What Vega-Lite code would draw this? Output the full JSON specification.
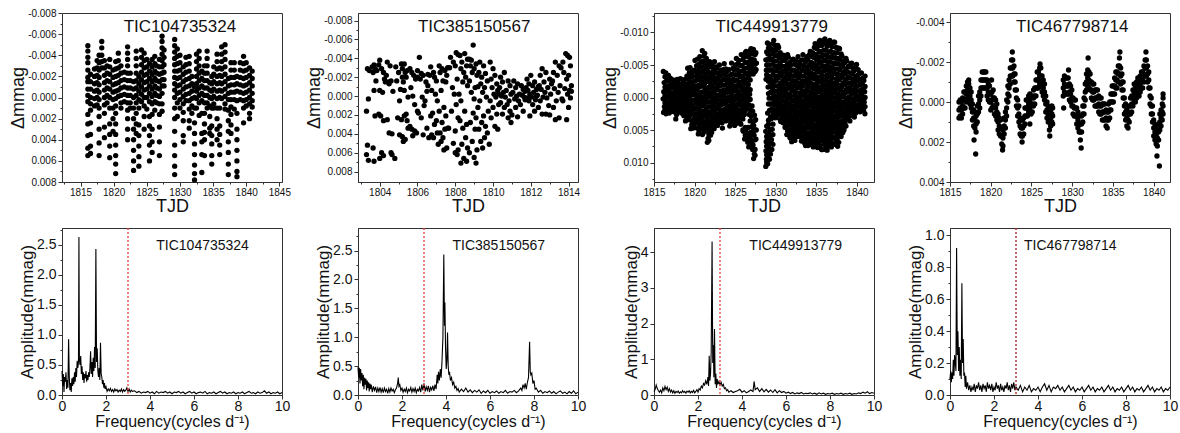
{
"$schema":"https://vega.github.io/schema/vega-lite/v6.json",
"background":"white",
"padding":{"left":9,"top":7,"right":2,"bottom":0},
"config":{
"font":"Liberation Sans",
"view":{"stroke":"#333","strokeWidth":1},
"axis":{"grid":false,"domainColor":"#333","tickColor":"#333","labelColor":"#111","titleColor":"#111","labelFont":"Liberation Sans","titleFont":"Liberation Sans","titleFontWeight":"normal","labelFlush":false,"labelOverlap":false,"tickWidth":1,"domainWidth":1},
"text":{"font":"Liberation Sans","color":"#111"},
"locale":{"number":{"decimal":".","thousands":",","grouping":[3],"currency":["$",""],"minus":"-"}}
},
"datasets":{
"lc1":[
{"t":1816.1,"m":-0.0049},{"t":1816.1,"m":-0.0044},{"t":1816.1,"m":-0.0038},{"t":1816.1,"m":-0.0033},{"t":1816.1,"m":-0.0026},{"t":1816.1,"m":-0.0019},{"t":1816.1,"m":-0.0015},{"t":1816.1,"m":-0.0008},{"t":1816.1,"m":-0.0002},{"t":1816.1,"m":0.0004},{"t":1816.1,"m":0.0016},{"t":1816.1,"m":0.0025},{"t":1816.1,"m":0.0036},{"t":1816.1,"m":0.0048},{"t":1816.1,"m":0.0055},
{"t":1816.5,"m":-0.0022},{"t":1816.5,"m":-0.0015},{"t":1816.5,"m":-0.0008},{"t":1816.5,"m":0},{"t":1816.5,"m":0.0006},{"t":1816.5,"m":0.0012},{"t":1816.5,"m":0.0024},{"t":1816.5,"m":0.0035},{"t":1816.5,"m":0.0046},{"t":1816.5,"m":0.0053},
{"t":1817.1,"m":-0.0027},{"t":1817.1,"m":-0.002},{"t":1817.1,"m":-0.0013},{"t":1817.1,"m":-0.0006},{"t":1817.1,"m":0.0001},{"t":1817.1,"m":0.0008},
{"t":1817.5,"m":-0.0035},{"t":1817.5,"m":-0.0028},{"t":1817.5,"m":-0.0021},{"t":1817.5,"m":-0.0014},{"t":1817.5,"m":-0.0007},{"t":1817.5,"m":0},{"t":1817.5,"m":0.0007},
{"t":1817.8,"m":-0.004},{"t":1817.8,"m":-0.0033},{"t":1817.8,"m":-0.0026},{"t":1817.8,"m":-0.0019},{"t":1817.8,"m":-0.0012},{"t":1817.8,"m":-0.0005},{"t":1817.8,"m":0.0002},{"t":1817.8,"m":0.001},{"t":1817.8,"m":0.0018},{"t":1817.8,"m":0.003},{"t":1817.8,"m":0.0043},{"t":1817.8,"m":0.0055},
{"t":1818.2,"m":-0.0053},{"t":1818.2,"m":-0.0047},{"t":1818.2,"m":-0.004},{"t":1818.2,"m":-0.0034},{"t":1818.2,"m":-0.0028},
{"t":1818.6,"m":-0.0035},{"t":1818.6,"m":-0.0028},{"t":1818.6,"m":-0.0021},{"t":1818.6,"m":-0.0014},{"t":1818.6,"m":-0.0007},{"t":1818.6,"m":0},{"t":1818.6,"m":0.0007},{"t":1818.6,"m":0.0015},{"t":1818.6,"m":0.0028},{"t":1818.6,"m":0.0038},
{"t":1819.0,"m":-0.003},{"t":1819.0,"m":-0.0023},{"t":1819.0,"m":-0.0016},{"t":1819.0,"m":-0.0009},{"t":1819.0,"m":-0.0002},{"t":1819.0,"m":0.0005},
{"t":1819.4,"m":-0.0036},{"t":1819.4,"m":-0.0029},{"t":1819.4,"m":-0.0022},{"t":1819.4,"m":-0.0015},{"t":1819.4,"m":-0.0008},{"t":1819.4,"m":0},{"t":1819.4,"m":0.001},{"t":1819.4,"m":0.0025},{"t":1819.4,"m":0.0035},{"t":1819.4,"m":0.0046},{"t":1819.4,"m":0.0057},
{"t":1819.9,"m":-0.0026},{"t":1819.9,"m":-0.0019},{"t":1819.9,"m":-0.0012},{"t":1819.9,"m":-0.0005},{"t":1819.9,"m":0.0002},{"t":1819.9,"m":0.001},{"t":1819.9,"m":0.002},{"t":1819.9,"m":0.0032},
{"t":1820.3,"m":-0.0034},{"t":1820.3,"m":-0.0027},{"t":1820.3,"m":-0.002},{"t":1820.3,"m":-0.0013},{"t":1820.3,"m":-0.0006},{"t":1820.3,"m":0.0001},{"t":1820.3,"m":0.0008},{"t":1820.3,"m":0.0015},{"t":1820.3,"m":0.0025},{"t":1820.3,"m":0.0035},{"t":1820.3,"m":0.0045},{"t":1820.3,"m":0.0055},{"t":1820.3,"m":0.0063},{"t":1820.3,"m":0.0072},
{"t":1820.7,"m":-0.0042},{"t":1820.7,"m":-0.0035},{"t":1820.7,"m":-0.0028},{"t":1820.7,"m":-0.0021},{"t":1820.7,"m":-0.0014},{"t":1820.7,"m":-0.0007},{"t":1820.7,"m":-0.0001},
{"t":1821.1,"m":-0.003},{"t":1821.1,"m":-0.0023},{"t":1821.1,"m":-0.0016},{"t":1821.1,"m":-0.0009},{"t":1821.1,"m":-0.0002},{"t":1821.1,"m":0.0005},{"t":1821.1,"m":0.001},
{"t":1821.6,"m":-0.0024},{"t":1821.6,"m":-0.0017},{"t":1821.6,"m":-0.001},{"t":1821.6,"m":-0.0003},{"t":1821.6,"m":0.0004},
{"t":1822.1,"m":-0.0048},{"t":1822.1,"m":-0.0042},{"t":1822.1,"m":-0.0036},{"t":1822.1,"m":-0.003},{"t":1822.1,"m":-0.0023},{"t":1822.1,"m":-0.0016},{"t":1822.1,"m":-0.0009},{"t":1822.1,"m":-0.0002},{"t":1822.1,"m":0.0005},{"t":1822.1,"m":0.0012},{"t":1822.1,"m":0.002},{"t":1822.1,"m":0.003},{"t":1822.1,"m":0.004},
{"t":1822.5,"m":-0.0023},{"t":1822.5,"m":-0.0016},{"t":1822.5,"m":-0.0009},{"t":1822.5,"m":-0.0002},{"t":1822.5,"m":0.0005},{"t":1822.5,"m":0.001},
{"t":1823.0,"m":-0.0015},{"t":1823.0,"m":-0.0008},{"t":1823.0,"m":0},{"t":1823.0,"m":0.001},{"t":1823.0,"m":0.002},{"t":1823.0,"m":0.003},{"t":1823.0,"m":0.004},{"t":1823.0,"m":0.005},{"t":1823.0,"m":0.006},{"t":1823.0,"m":0.0069},
{"t":1823.4,"m":-0.0044},{"t":1823.4,"m":-0.0037},{"t":1823.4,"m":-0.003},{"t":1823.4,"m":-0.0023},{"t":1823.4,"m":-0.0016},{"t":1823.4,"m":-0.0009},{"t":1823.4,"m":-0.0002},{"t":1823.4,"m":0.0005},{"t":1823.4,"m":0.0015},{"t":1823.4,"m":0.0025},{"t":1823.4,"m":0.0034},
{"t":1823.8,"m":-0.002},{"t":1823.8,"m":-0.0013},{"t":1823.8,"m":-0.0006},{"t":1823.8,"m":0.0002},{"t":1823.8,"m":0.001},{"t":1823.8,"m":0.0026},{"t":1823.8,"m":0.0036},{"t":1823.8,"m":0.0046},{"t":1823.8,"m":0.0056},{"t":1823.8,"m":0.0065},
{"t":1824.2,"m":-0.0045},{"t":1824.2,"m":-0.0038},{"t":1824.2,"m":-0.0031},{"t":1824.2,"m":-0.0024},{"t":1824.2,"m":-0.0017},{"t":1824.2,"m":-0.001},{"t":1824.2,"m":-0.0003},{"t":1824.2,"m":0.0004},
{"t":1824.6,"m":-0.0042},{"t":1824.6,"m":-0.0035},{"t":1824.6,"m":-0.0028},{"t":1824.6,"m":-0.0021},{"t":1824.6,"m":-0.0014},{"t":1824.6,"m":-0.0007},{"t":1824.6,"m":0},{"t":1824.6,"m":0.0008},{"t":1824.6,"m":0.0018},{"t":1824.6,"m":0.003},
{"t":1825.0,"m":-0.0036},{"t":1825.0,"m":-0.0029},{"t":1825.0,"m":-0.0022},{"t":1825.0,"m":-0.0015},{"t":1825.0,"m":-0.0008},{"t":1825.0,"m":0},{"t":1825.0,"m":0.0011},
{"t":1825.4,"m":-0.0032},{"t":1825.4,"m":-0.0025},{"t":1825.4,"m":-0.0018},{"t":1825.4,"m":-0.0011},{"t":1825.4,"m":-0.0004},{"t":1825.4,"m":0.0004},{"t":1825.4,"m":0.0018},{"t":1825.4,"m":0.0027},{"t":1825.4,"m":0.0036},{"t":1825.4,"m":0.0045},{"t":1825.4,"m":0.006},
{"t":1825.8,"m":-0.0036},{"t":1825.8,"m":-0.0029},{"t":1825.8,"m":-0.0022},{"t":1825.8,"m":-0.0015},{"t":1825.8,"m":-0.0008},{"t":1825.8,"m":-0.0001},{"t":1825.8,"m":0.0006},{"t":1825.8,"m":0.0016},{"t":1825.8,"m":0.003},{"t":1825.8,"m":0.0042},{"t":1825.8,"m":0.0052},
{"t":1826.2,"m":-0.0039},{"t":1826.2,"m":-0.0032},{"t":1826.2,"m":-0.0025},{"t":1826.2,"m":-0.0018},{"t":1826.2,"m":-0.0011},{"t":1826.2,"m":-0.0004},{"t":1826.2,"m":0.0004},{"t":1826.2,"m":0.0012},
{"t":1826.5,"m":-0.003},{"t":1826.5,"m":-0.0023},{"t":1826.5,"m":-0.0016},{"t":1826.5,"m":-0.0009},{"t":1826.5,"m":-0.0002},{"t":1826.5,"m":0.0005},
{"t":1826.9,"m":-0.0036},{"t":1826.9,"m":-0.0029},{"t":1826.9,"m":-0.0022},{"t":1826.9,"m":-0.0015},{"t":1826.9,"m":-0.0008},{"t":1826.9,"m":-0.0001},{"t":1826.9,"m":0.0006},{"t":1826.9,"m":0.0016},{"t":1826.9,"m":0.0028},{"t":1826.9,"m":0.0042},{"t":1826.9,"m":0.0055},
{"t":1827.3,"m":-0.0058},{"t":1827.3,"m":-0.0053},{"t":1827.3,"m":-0.0047},{"t":1827.3,"m":-0.0041},{"t":1827.3,"m":-0.0035},{"t":1827.3,"m":-0.0029},{"t":1827.3,"m":-0.0023},{"t":1827.3,"m":-0.0017},{"t":1827.3,"m":-0.0011},{"t":1827.3,"m":-0.0004},{"t":1827.3,"m":0.0006},{"t":1827.3,"m":0.0013},
{"t":1827.6,"m":-0.0045},{"t":1827.6,"m":-0.0038},{"t":1827.6,"m":-0.0031},{"t":1827.6,"m":-0.0024},{"t":1827.6,"m":-0.0017},{"t":1827.6,"m":-0.0011},
{"t":1829.2,"m":-0.0055},{"t":1829.2,"m":-0.0049},{"t":1829.2,"m":-0.0043},{"t":1829.2,"m":-0.0037},{"t":1829.2,"m":-0.0031},{"t":1829.2,"m":-0.0025},{"t":1829.2,"m":-0.0019},{"t":1829.2,"m":-0.0013},{"t":1829.2,"m":-0.0007},{"t":1829.2,"m":0},{"t":1829.2,"m":0.001},{"t":1829.2,"m":0.002},{"t":1829.2,"m":0.0032},{"t":1829.2,"m":0.0045},{"t":1829.2,"m":0.0055},{"t":1829.2,"m":0.0065},{"t":1829.2,"m":0.0073},
{"t":1829.6,"m":-0.0046},{"t":1829.6,"m":-0.0039},{"t":1829.6,"m":-0.0032},{"t":1829.6,"m":-0.0025},{"t":1829.6,"m":-0.0018},{"t":1829.6,"m":-0.0011},{"t":1829.6,"m":-0.0004},{"t":1829.6,"m":0.0005},{"t":1829.6,"m":0.0018},
{"t":1830.0,"m":-0.004},{"t":1830.0,"m":-0.0033},{"t":1830.0,"m":-0.0026},{"t":1830.0,"m":-0.0019},{"t":1830.0,"m":-0.0012},{"t":1830.0,"m":-0.0005},{"t":1830.0,"m":0.0002},{"t":1830.0,"m":0.001},
{"t":1830.5,"m":-0.0029},{"t":1830.5,"m":-0.0022},{"t":1830.5,"m":-0.0015},{"t":1830.5,"m":-0.0008},{"t":1830.5,"m":-0.0001},{"t":1830.5,"m":0.0006},{"t":1830.5,"m":0.0014},{"t":1830.5,"m":0.0022},{"t":1830.5,"m":0.0036},{"t":1830.5,"m":0.0042},
{"t":1830.9,"m":-0.0038},{"t":1830.9,"m":-0.0031},{"t":1830.9,"m":-0.0024},{"t":1830.9,"m":-0.0017},{"t":1830.9,"m":-0.001},{"t":1830.9,"m":-0.0003},{"t":1830.9,"m":0.0003},
{"t":1831.4,"m":-0.0039},{"t":1831.4,"m":-0.0032},{"t":1831.4,"m":-0.0025},{"t":1831.4,"m":-0.0018},{"t":1831.4,"m":-0.0011},{"t":1831.4,"m":-0.0004},{"t":1831.4,"m":0.0003},{"t":1831.4,"m":0.0011},{"t":1831.4,"m":0.0022},{"t":1831.4,"m":0.0029},
{"t":1831.8,"m":-0.002},{"t":1831.8,"m":-0.0013},{"t":1831.8,"m":-0.0006},{"t":1831.8,"m":0.0001},{"t":1831.8,"m":0.0008},{"t":1831.8,"m":0.0015},
{"t":1832.2,"m":-0.001},{"t":1832.2,"m":0},{"t":1832.2,"m":0.001},{"t":1832.2,"m":0.0024},{"t":1832.2,"m":0.0034},{"t":1832.2,"m":0.0044},{"t":1832.2,"m":0.0054},{"t":1832.2,"m":0.0064},{"t":1832.2,"m":0.0072},{"t":1832.2,"m":0.0078},
{"t":1832.5,"m":-0.0041},{"t":1832.5,"m":-0.0034},{"t":1832.5,"m":-0.0027},{"t":1832.5,"m":-0.002},{"t":1832.5,"m":-0.0013},{"t":1832.5,"m":-0.0006},{"t":1832.5,"m":0.0001},{"t":1832.5,"m":0.001},
{"t":1832.9,"m":-0.0044},{"t":1832.9,"m":-0.0037},{"t":1832.9,"m":-0.003},{"t":1832.9,"m":-0.0023},{"t":1832.9,"m":-0.0016},{"t":1832.9,"m":-0.0009},{"t":1832.9,"m":-0.0002},{"t":1832.9,"m":0.0005},{"t":1832.9,"m":0.0017},
{"t":1833.3,"m":-0.0025},{"t":1833.3,"m":-0.0018},{"t":1833.3,"m":-0.0011},{"t":1833.3,"m":-0.0004},{"t":1833.3,"m":0.0003},{"t":1833.3,"m":0.0015},{"t":1833.3,"m":0.0034},{"t":1833.3,"m":0.0042},{"t":1833.3,"m":0.0054},{"t":1833.3,"m":0.0071},
{"t":1833.7,"m":-0.003},{"t":1833.7,"m":-0.0023},{"t":1833.7,"m":-0.0016},{"t":1833.7,"m":-0.0009},{"t":1833.7,"m":-0.0002},{"t":1833.7,"m":0.0005},{"t":1833.7,"m":0.0015},{"t":1833.7,"m":0.0025},{"t":1833.7,"m":0.0033},{"t":1833.7,"m":0.004},{"t":1833.7,"m":0.0055},
{"t":1834.1,"m":-0.0044},{"t":1834.1,"m":-0.0037},{"t":1834.1,"m":-0.003},{"t":1834.1,"m":-0.0023},{"t":1834.1,"m":-0.0016},{"t":1834.1,"m":-0.0009},{"t":1834.1,"m":-0.0002},{"t":1834.1,"m":0.0005},{"t":1834.1,"m":0.001},
{"t":1834.5,"m":-0.0014},{"t":1834.5,"m":-0.0007},{"t":1834.5,"m":0},{"t":1834.5,"m":0.0008},{"t":1834.5,"m":0.0018},{"t":1834.5,"m":0.0029},{"t":1834.5,"m":0.0034},
{"t":1834.8,"m":-0.002},{"t":1834.8,"m":-0.0013},{"t":1834.8,"m":-0.0006},{"t":1834.8,"m":0.0001},{"t":1834.8,"m":0.001},{"t":1834.8,"m":0.0027},{"t":1834.8,"m":0.0036},{"t":1834.8,"m":0.0044},{"t":1834.8,"m":0.0055},{"t":1834.8,"m":0.0063},
{"t":1835.1,"m":-0.0029},{"t":1835.1,"m":-0.0022},{"t":1835.1,"m":-0.0015},{"t":1835.1,"m":-0.0008},{"t":1835.1,"m":-0.0001},{"t":1835.1,"m":0.0006},{"t":1835.1,"m":0.001},
{"t":1835.6,"m":-0.0041},{"t":1835.6,"m":-0.0034},{"t":1835.6,"m":-0.0027},{"t":1835.6,"m":-0.002},{"t":1835.6,"m":-0.0013},{"t":1835.6,"m":-0.0006},{"t":1835.6,"m":0.0001},{"t":1835.6,"m":0.001},{"t":1835.6,"m":0.002},{"t":1835.6,"m":0.003},{"t":1835.6,"m":0.004},
{"t":1836.0,"m":-0.0028},{"t":1836.0,"m":-0.0021},{"t":1836.0,"m":-0.0014},{"t":1836.0,"m":-0.0007},{"t":1836.0,"m":0},{"t":1836.0,"m":0.001},{"t":1836.0,"m":0.0027},{"t":1836.0,"m":0.0035},{"t":1836.0,"m":0.0045},{"t":1836.0,"m":0.0054},
{"t":1836.3,"m":-0.0048},{"t":1836.3,"m":-0.0041},{"t":1836.3,"m":-0.0034},{"t":1836.3,"m":-0.0027},{"t":1836.3,"m":-0.002},{"t":1836.3,"m":-0.0013},{"t":1836.3,"m":-0.0006},{"t":1836.3,"m":0.0001},
{"t":1836.8,"m":-0.005},{"t":1836.8,"m":-0.0043},{"t":1836.8,"m":-0.0036},{"t":1836.8,"m":-0.0029},{"t":1836.8,"m":-0.0022},{"t":1836.8,"m":-0.0015},{"t":1836.8,"m":-0.0008},{"t":1836.8,"m":-0.0001},{"t":1836.8,"m":0.0006},{"t":1836.8,"m":0.0011},
{"t":1837.3,"m":-0.0018},{"t":1837.3,"m":-0.0011},{"t":1837.3,"m":-0.0004},{"t":1837.3,"m":0.0002},{"t":1837.3,"m":0.0012},{"t":1837.3,"m":0.0022},{"t":1837.3,"m":0.0032},{"t":1837.3,"m":0.0042},{"t":1837.3,"m":0.0052},{"t":1837.3,"m":0.0063},{"t":1837.3,"m":0.0073},
{"t":1837.7,"m":-0.0033},{"t":1837.7,"m":-0.0026},{"t":1837.7,"m":-0.0019},{"t":1837.7,"m":-0.0012},{"t":1837.7,"m":-0.0005},{"t":1837.7,"m":0.0002},{"t":1837.7,"m":0.0009},{"t":1837.7,"m":0.0016},{"t":1837.7,"m":0.0026},{"t":1837.7,"m":0.0034},
{"t":1838.2,"m":-0.0033},{"t":1838.2,"m":-0.0026},{"t":1838.2,"m":-0.0019},{"t":1838.2,"m":-0.0012},{"t":1838.2,"m":-0.0005},{"t":1838.2,"m":0.0002},{"t":1838.2,"m":0.0011},
{"t":1838.6,"m":-0.002},{"t":1838.6,"m":-0.0013},{"t":1838.6,"m":-0.0006},{"t":1838.6,"m":0.0003},{"t":1838.6,"m":0.0015},{"t":1838.6,"m":0.003},{"t":1838.6,"m":0.004},{"t":1838.6,"m":0.005},{"t":1838.6,"m":0.006},{"t":1838.6,"m":0.007},{"t":1838.6,"m":0.0075},
{"t":1839.1,"m":-0.0033},{"t":1839.1,"m":-0.0026},{"t":1839.1,"m":-0.0019},{"t":1839.1,"m":-0.0012},{"t":1839.1,"m":-0.0005},{"t":1839.1,"m":0.0002},
{"t":1839.6,"m":-0.0039},{"t":1839.6,"m":-0.0032},{"t":1839.6,"m":-0.0025},{"t":1839.6,"m":-0.0018},{"t":1839.6,"m":-0.0011},{"t":1839.6,"m":-0.0004},{"t":1839.6,"m":0.0003},{"t":1839.6,"m":0.001},{"t":1839.6,"m":0.0024},
{"t":1840.0,"m":-0.0033},{"t":1840.0,"m":-0.0026},{"t":1840.0,"m":-0.0019},{"t":1840.0,"m":-0.0012},{"t":1840.0,"m":-0.0005},{"t":1840.0,"m":0.0002},{"t":1840.0,"m":0.0008},
{"t":1840.5,"m":-0.0028},{"t":1840.5,"m":-0.0021},{"t":1840.5,"m":-0.0014},{"t":1840.5,"m":-0.0007},{"t":1840.5,"m":0},{"t":1840.5,"m":0.0006},{"t":1840.5,"m":0.0015},{"t":1840.5,"m":0.002},
{"t":1840.9,"m":-0.0025},{"t":1840.9,"m":-0.0018},{"t":1840.9,"m":-0.0011},{"t":1840.9,"m":-0.0004},{"t":1840.9,"m":0.0003},{"t":1840.9,"m":0.0009}
],
"lc2":[
{"t":1803.35,"m":-0.0029},{"t":1803.45,"m":-0.0027},{"t":1803.4,"m":0.0003},{"t":1803.3,"m":0.0016},{"t":1803.35,"m":0.0052},{"t":1803.3,"m":0.0062},{"t":1803.4,"m":0.0068},
{"t":1803.7,"m":-0.0033},{"t":1803.6,"m":-0.0031},{"t":1803.75,"m":-0.0029},{"t":1803.65,"m":-0.0025},{"t":1803.8,"m":-0.0016},{"t":1803.7,"m":-0.0006},{"t":1803.75,"m":0.0021},{"t":1803.65,"m":0.0055},{"t":1803.7,"m":0.0069},{"t":1803.85,"m":-0.0027},
{"t":1804.0,"m":-0.0038},{"t":1803.95,"m":-0.0033},{"t":1804.1,"m":-0.0029},{"t":1804.2,"m":-0.0025},{"t":1804.25,"m":-0.0018},{"t":1804.0,"m":-0.0006},{"t":1804.15,"m":-0.0004},{"t":1803.95,"m":0.0019},{"t":1804.05,"m":0.0021},{"t":1804.2,"m":0.0026},{"t":1804.1,"m":0.006},{"t":1804.2,"m":0.0063},{"t":1804.0,"m":0.0066},{"t":1804.3,"m":-0.0015},
{"t":1804.4,"m":-0.0036},{"t":1804.55,"m":-0.0032},{"t":1804.35,"m":-0.0022},{"t":1804.6,"m":-0.0016},{"t":1804.45,"m":-0.0015},{"t":1804.5,"m":-0.0013},{"t":1804.4,"m":0.0025},{"t":1804.5,"m":0.0039},{"t":1804.6,"m":0.006},{"t":1804.65,"m":0.0062},{"t":1804.65,"m":0.004},{"t":1804.7,"m":-0.0005},
{"t":1804.85,"m":-0.0031},{"t":1805.0,"m":-0.0025},{"t":1804.9,"m":-0.0016},{"t":1805.1,"m":-0.0007},{"t":1805.05,"m":0.0005},{"t":1804.95,"m":0.0023},{"t":1805.15,"m":0.0025},{"t":1805.05,"m":0.0041},{"t":1805.2,"m":0.0043},{"t":1804.8,"m":0.0066},{"t":1805.15,"m":-0.0034},{"t":1805.2,"m":-0.002},
{"t":1805.3,"m":-0.0034},{"t":1805.2,"m":-0.0029},{"t":1805.45,"m":-0.0027},{"t":1805.35,"m":-0.0025},{"t":1805.4,"m":-0.002},{"t":1805.25,"m":-0.0015},{"t":1805.3,"m":-0.0006},{"t":1805.5,"m":0.0001},{"t":1805.4,"m":0.0019},{"t":1805.3,"m":0.0021},{"t":1805.45,"m":0.0026},{"t":1805.25,"m":0.0048},{"t":1805.35,"m":0.0046},{"t":1805.5,"m":0.0034},
{"t":1805.6,"m":-0.0029},{"t":1805.7,"m":-0.0025},{"t":1805.8,"m":-0.0022},{"t":1805.9,"m":-0.0018},{"t":1805.65,"m":-0.0009},{"t":1805.75,"m":0},{"t":1805.85,"m":0.0009},{"t":1806.0,"m":0.0016},{"t":1805.6,"m":0.0032},{"t":1805.7,"m":0.0035},{"t":1805.85,"m":0.0037},{"t":1805.95,"m":0.0039},{"t":1806.0,"m":-0.002},{"t":1805.75,"m":0.0042},
{"t":1806.1,"m":-0.0041},{"t":1806.0,"m":-0.0027},{"t":1806.2,"m":-0.0024},{"t":1806.3,"m":-0.0022},{"t":1806.15,"m":-0.0018},{"t":1806.45,"m":-0.0015},{"t":1806.55,"m":-0.0011},{"t":1806.25,"m":0.0001},{"t":1806.4,"m":0.0005},{"t":1806.35,"m":0.001},{"t":1806.05,"m":0.0018},{"t":1806.2,"m":0.0023},{"t":1806.5,"m":0.0034},{"t":1806.3,"m":0.0041},{"t":1806.6,"m":0.0044},{"t":1806.55,"m":-0.0023},{"t":1806.5,"m":-0.0005},
{"t":1806.7,"m":-0.0031},{"t":1806.85,"m":-0.0025},{"t":1806.65,"m":-0.0022},{"t":1806.9,"m":-0.002},{"t":1807.0,"m":-0.0016},{"t":1806.75,"m":-0.0006},{"t":1806.95,"m":-0.0002},{"t":1807.05,"m":0.0005},{"t":1806.8,"m":0.0018},{"t":1806.7,"m":0.0021},{"t":1807.0,"m":0.0026},{"t":1806.9,"m":0.003},{"t":1807.05,"m":0.0039},{"t":1806.75,"m":0.0041},{"t":1806.85,"m":0.0044},{"t":1807.1,"m":0.0051},
{"t":1807.15,"m":-0.0032},{"t":1807.3,"m":-0.0029},{"t":1807.45,"m":-0.0027},{"t":1807.2,"m":-0.0025},{"t":1807.55,"m":-0.0022},{"t":1807.35,"m":-0.0016},{"t":1807.5,"m":-0.0015},{"t":1807.25,"m":-0.0006},{"t":1807.4,"m":0.0012},{"t":1807.15,"m":0.0016},{"t":1807.5,"m":0.0021},{"t":1807.3,"m":0.0028},{"t":1807.6,"m":0.0034},{"t":1807.45,"m":0.0035},{"t":1807.2,"m":0.0039},{"t":1807.35,"m":0.0044},{"t":1807.25,"m":0.0048},{"t":1807.55,"m":0.0055},{"t":1807.4,"m":0.0057},{"t":1807.6,"m":-0.003},
{"t":1807.75,"m":-0.0041},{"t":1807.9,"m":-0.0036},{"t":1808.0,"m":-0.0032},{"t":1807.7,"m":-0.003},{"t":1808.1,"m":-0.0018},{"t":1807.85,"m":-0.0009},{"t":1807.95,"m":-0.0002},{"t":1808.05,"m":0.0009},{"t":1807.8,"m":0.0016},{"t":1808.15,"m":0.0023},{"t":1807.65,"m":0.0034},{"t":1808.0,"m":0.0037},{"t":1807.9,"m":0.005},{"t":1808.15,"m":0.0057},{"t":1808.0,"m":0.006},{"t":1808.1,"m":0.0062},{"t":1808.05,"m":-0.0046},{"t":1808.15,"m":-0.0044},
{"t":1808.5,"m":-0.0045},{"t":1808.25,"m":-0.0043},{"t":1808.65,"m":-0.0039},{"t":1808.35,"m":-0.0036},{"t":1808.6,"m":-0.0032},{"t":1808.3,"m":-0.0029},{"t":1808.45,"m":-0.0025},{"t":1808.55,"m":-0.002},{"t":1808.4,"m":-0.0015},{"t":1808.65,"m":-0.0011},{"t":1808.3,"m":0.0005},{"t":1808.5,"m":0.0016},{"t":1808.25,"m":0.0026},{"t":1808.6,"m":0.003},{"t":1808.4,"m":0.0034},{"t":1808.55,"m":0.0044},{"t":1808.35,"m":0.0051},{"t":1808.65,"m":0.0055},{"t":1808.45,"m":0.0066},{"t":1808.6,"m":0.0069},{"t":1808.2,"m":-0.0002},{"t":1808.3,"m":0.0071},
{"t":1808.95,"m":-0.0054},{"t":1808.75,"m":-0.0039},{"t":1808.85,"m":-0.0038},{"t":1809.1,"m":-0.0034},{"t":1808.8,"m":-0.0032},{"t":1809.0,"m":-0.0029},{"t":1808.9,"m":-0.0025},{"t":1809.15,"m":-0.0022},{"t":1808.75,"m":-0.0016},{"t":1809.05,"m":-0.0009},{"t":1808.85,"m":-0.0004},{"t":1809.0,"m":0.0003},{"t":1809.2,"m":0.0012},{"t":1808.95,"m":0.0018},{"t":1809.1,"m":0.0023},{"t":1808.8,"m":0.0028},{"t":1809.05,"m":0.0035},{"t":1808.9,"m":0.0048},{"t":1809.15,"m":0.0057},{"t":1808.75,"m":0.006},{"t":1809.0,"m":0.0065},{"t":1809.1,"m":0.0071},{"t":1809.2,"m":-0.001},
{"t":1809.3,"m":-0.0036},{"t":1809.5,"m":-0.0032},{"t":1809.25,"m":-0.0025},{"t":1809.6,"m":-0.0024},{"t":1809.4,"m":-0.002},{"t":1809.7,"m":-0.0016},{"t":1809.35,"m":-0.0013},{"t":1809.55,"m":-0.0009},{"t":1809.45,"m":-0.0004},{"t":1809.65,"m":0.0001},{"t":1809.3,"m":0.0005},{"t":1809.75,"m":0.0016},{"t":1809.5,"m":0.0021},{"t":1809.4,"m":0.0028},{"t":1809.6,"m":0.0032},{"t":1809.25,"m":0.0035},{"t":1809.7,"m":0.0039},{"t":1809.55,"m":0.0044},{"t":1809.35,"m":0.0048},{"t":1809.8,"m":0.0051},{"t":1809.45,"m":0.0055},
{"t":1809.85,"m":-0.0036},{"t":1810.0,"m":-0.0029},{"t":1810.1,"m":-0.0022},{"t":1809.9,"m":-0.0018},{"t":1810.2,"m":-0.0013},{"t":1809.95,"m":-0.0009},{"t":1810.25,"m":-0.0006},{"t":1810.05,"m":-0.0002},{"t":1810.15,"m":0.0001},{"t":1809.85,"m":0.0005},{"t":1810.3,"m":0.0009},{"t":1810.0,"m":0.0012},{"t":1810.2,"m":0.0019},{"t":1809.9,"m":0.0023},{"t":1810.1,"m":0.0032},{"t":1810.25,"m":0.0035},
{"t":1810.6,"m":-0.0025},{"t":1810.4,"m":-0.002},{"t":1810.8,"m":-0.0016},{"t":1810.5,"m":-0.0015},{"t":1810.9,"m":-0.0011},{"t":1810.35,"m":-0.0009},{"t":1810.7,"m":-0.0006},{"t":1810.55,"m":-0.0004},{"t":1810.95,"m":-0.0002},{"t":1810.45,"m":0},{"t":1810.65,"m":0.0001},{"t":1810.85,"m":0.0005},{"t":1810.4,"m":0.0007},{"t":1810.75,"m":0.0009},{"t":1810.6,"m":0.0012},{"t":1810.9,"m":0.0016},{"t":1810.5,"m":0.0019},{"t":1810.8,"m":0.0023},{"t":1811.0,"m":0.002},{"t":1810.95,"m":0.0028},{"t":1810.3,"m":-0.0002},
{"t":1811.1,"m":-0.0016},{"t":1811.3,"m":-0.0013},{"t":1811.5,"m":-0.0011},{"t":1811.2,"m":-0.0009},{"t":1811.6,"m":-0.0007},{"t":1811.05,"m":-0.0004},{"t":1811.4,"m":-0.0002},{"t":1811.25,"m":0},{"t":1811.55,"m":-0.0001},{"t":1811.65,"m":0.0001},{"t":1811.15,"m":0.0003},{"t":1811.35,"m":0.0005},{"t":1811.45,"m":0.0009},{"t":1811.2,"m":0.0012},{"t":1811.6,"m":0.0016},{"t":1811.3,"m":0.0022},{"t":1811.7,"m":-0.0005},{"t":1811.7,"m":0.0004},
{"t":1812.0,"m":-0.0022},{"t":1811.8,"m":-0.0018},{"t":1812.2,"m":-0.0015},{"t":1811.9,"m":-0.0013},{"t":1812.1,"m":-0.0011},{"t":1811.75,"m":-0.0009},{"t":1812.3,"m":-0.0007},{"t":1811.85,"m":-0.0006},{"t":1812.15,"m":-0.0004},{"t":1811.95,"m":-0.0002},{"t":1812.35,"m":-0.0001},{"t":1812.05,"m":0.0001},{"t":1811.8,"m":0.0002},{"t":1812.25,"m":0.0004},{"t":1811.9,"m":0.0005},{"t":1812.1,"m":0.0009},{"t":1812.4,"m":0.0012},{"t":1812.2,"m":0.0016},{"t":1811.95,"m":0.0021},{"t":1812.4,"m":-0.001},{"t":1812.3,"m":0},
{"t":1812.6,"m":-0.0029},{"t":1812.8,"m":-0.0025},{"t":1812.5,"m":-0.0022},{"t":1813.0,"m":-0.0018},{"t":1812.7,"m":-0.0015},{"t":1812.45,"m":-0.0011},{"t":1812.9,"m":-0.0009},{"t":1812.55,"m":-0.0007},{"t":1812.75,"m":-0.0004},{"t":1813.05,"m":-0.0002},{"t":1812.65,"m":0.0001},{"t":1812.85,"m":0.0002},{"t":1812.5,"m":0.0005},{"t":1812.95,"m":0.001},{"t":1812.6,"m":0.0019},{"t":1812.8,"m":0.0019},{"t":1813.0,"m":0.002},{"t":1813.1,"m":-0.0013},
{"t":1813.3,"m":-0.0036},{"t":1813.5,"m":-0.0032},{"t":1813.2,"m":-0.0025},{"t":1813.4,"m":-0.0022},{"t":1813.15,"m":-0.0016},{"t":1813.55,"m":-0.0011},{"t":1813.25,"m":-0.0008},{"t":1813.45,"m":-0.0004},{"t":1813.35,"m":0.0005},{"t":1813.2,"m":0.0012},{"t":1813.5,"m":0.0023},{"t":1813.3,"m":0.0025},{"t":1813.6,"m":-0.003},
{"t":1813.85,"m":-0.0045},{"t":1813.95,"m":-0.0043},{"t":1814.05,"m":-0.0041},{"t":1813.7,"m":-0.0036},{"t":1814.1,"m":-0.0032},{"t":1813.75,"m":-0.0025},{"t":1814.0,"m":-0.0022},{"t":1813.9,"m":-0.0018},{"t":1814.15,"m":-0.0011},{"t":1813.8,"m":-0.0008},{"t":1814.05,"m":-0.0006},{"t":1813.95,"m":-0.0002},{"t":1814.1,"m":0.0002},{"t":1813.7,"m":0.0005},{"t":1814.0,"m":0.0012},{"t":1813.9,"m":0.0025},{"t":1814.15,"m":-0.0005},{"t":1813.65,"m":0.0003}
],
"lc3":[
{"t":1816.15,"m":-0.004},{"t":1816.25,"m":-0.0023},{"t":1816.2,"m":-0.0009},{"t":1816.12,"m":0.0002},{"t":1816.28,"m":0.0014},{"t":1816.18,"m":0.0023},
{"t":1816.45,"m":-0.0038},{"t":1816.55,"m":-0.0026},{"t":1816.5,"m":-0.001},{"t":1816.42,"m":0.0004},{"t":1816.58,"m":0.0014},{"t":1816.48,"m":0.0025},
{"t":1816.75,"m":-0.0026},{"t":1816.85,"m":-0.0012},{"t":1816.8,"m":0.0001},{"t":1816.72,"m":0.0015},{"t":1816.88,"m":0.0024},{"t":1816.78,"m":-0.0034},
{"t":1817.05,"m":-0.0029},{"t":1817.15,"m":-0.0015},{"t":1817.1,"m":0},{"t":1817.02,"m":0.0012},{"t":1817.18,"m":0.0021},
{"t":1817.35,"m":-0.0027},{"t":1817.45,"m":-0.0015},{"t":1817.4,"m":-0.0001},{"t":1817.32,"m":0.0012},{"t":1817.48,"m":0.0022},
{"t":1817.65,"m":-0.0023},{"t":1817.75,"m":-0.0012},{"t":1817.7,"m":0},{"t":1817.62,"m":0.0012},{"t":1817.78,"m":0.0026},{"t":1817.68,"m":0.0033},
{"t":1817.95,"m":-0.0027},{"t":1818.05,"m":-0.0014},{"t":1818.0,"m":-0.0001},{"t":1817.92,"m":0.001},{"t":1818.08,"m":0.0021},
{"t":1818.25,"m":-0.0029},{"t":1818.35,"m":-0.0014},{"t":1818.3,"m":-0.0001},{"t":1818.22,"m":0.0011},{"t":1818.38,"m":0.0024},
{"t":1818.55,"m":-0.0027},{"t":1818.65,"m":-0.0013},{"t":1818.6,"m":0},{"t":1818.52,"m":0.0012},{"t":1818.68,"m":0.0028},
{"t":1818.85,"m":-0.0028},{"t":1818.95,"m":-0.0013},{"t":1818.9,"m":0},{"t":1818.82,"m":0.0013},{"t":1818.98,"m":0.0025},{"t":1818.88,"m":0.0036},
{"t":1819.15,"m":-0.0045},{"t":1819.25,"m":-0.0031},{"t":1819.2,"m":-0.0018},{"t":1819.12,"m":-0.0002},{"t":1819.28,"m":0.0011},{"t":1819.18,"m":0.0023},{"t":1819.23,"m":0.0034},
{"t":1819.45,"m":-0.0046},{"t":1819.55,"m":-0.0031},{"t":1819.5,"m":-0.0015},{"t":1819.42,"m":-0.0002},{"t":1819.58,"m":0.0012},{"t":1819.48,"m":0.0026},{"t":1819.53,"m":0.0048},
{"t":1819.75,"m":-0.0033},{"t":1819.85,"m":-0.0017},{"t":1819.8,"m":-0.0004},{"t":1819.72,"m":0.0012},{"t":1819.88,"m":0.0025},{"t":1819.78,"m":0.004},{"t":1819.83,"m":0.0047},
{"t":1820.05,"m":-0.0057},{"t":1820.15,"m":-0.004},{"t":1820.1,"m":-0.0026},{"t":1820.02,"m":-0.0011},{"t":1820.18,"m":0.0003},{"t":1820.08,"m":0.0016},{"t":1820.13,"m":0.0033},{"t":1820.0,"m":0.0046},
{"t":1820.35,"m":-0.0059},{"t":1820.45,"m":-0.0042},{"t":1820.4,"m":-0.0027},{"t":1820.32,"m":-0.0011},{"t":1820.48,"m":0.0003},{"t":1820.38,"m":0.0018},{"t":1820.43,"m":0.0032},{"t":1820.3,"m":0.0047},{"t":1820.46,"m":0.0056},
{"t":1820.65,"m":-0.0063},{"t":1820.75,"m":-0.0047},{"t":1820.7,"m":-0.0031},{"t":1820.62,"m":-0.0016},{"t":1820.78,"m":0},{"t":1820.68,"m":0.0014},{"t":1820.73,"m":0.0029},{"t":1820.6,"m":0.0041},
{"t":1820.95,"m":-0.0072},{"t":1821.05,"m":-0.0056},{"t":1821.0,"m":-0.004},{"t":1820.92,"m":-0.0025},{"t":1821.08,"m":-0.0009},{"t":1820.98,"m":0.0006},{"t":1821.03,"m":0.0021},{"t":1820.9,"m":0.0035},{"t":1821.06,"m":0.0049},{"t":1820.97,"m":0.0057},
{"t":1821.25,"m":-0.0068},{"t":1821.35,"m":-0.0052},{"t":1821.3,"m":-0.0036},{"t":1821.22,"m":-0.0021},{"t":1821.38,"m":-0.0006},{"t":1821.28,"m":0.0008},{"t":1821.33,"m":0.0024},{"t":1821.2,"m":0.0037},{"t":1821.36,"m":0.0048},
{"t":1821.55,"m":-0.0055},{"t":1821.65,"m":-0.004},{"t":1821.6,"m":-0.0025},{"t":1821.52,"m":-0.0008},{"t":1821.68,"m":0.0007},{"t":1821.58,"m":0.0022},{"t":1821.63,"m":0.0036},{"t":1821.5,"m":0.005},{"t":1821.66,"m":0.0063},{"t":1821.57,"m":0.0069},
{"t":1821.85,"m":-0.0055},{"t":1821.95,"m":-0.0038},{"t":1821.9,"m":-0.0023},{"t":1821.82,"m":-0.0008},{"t":1821.98,"m":0.0007},{"t":1821.88,"m":0.0022},{"t":1821.93,"m":0.0036},{"t":1821.8,"m":0.0049},{"t":1821.96,"m":0.0058},
{"t":1822.15,"m":-0.0051},{"t":1822.25,"m":-0.0034},{"t":1822.2,"m":-0.0018},{"t":1822.12,"m":-0.0003},{"t":1822.28,"m":0.0011},{"t":1822.18,"m":0.0027},{"t":1822.23,"m":0.0041},{"t":1822.1,"m":0.0054},
{"t":1822.45,"m":-0.0055},{"t":1822.55,"m":-0.0038},{"t":1822.5,"m":-0.0023},{"t":1822.42,"m":-0.0007},{"t":1822.58,"m":0.0007},{"t":1822.48,"m":0.0022},{"t":1822.53,"m":0.0036},{"t":1822.4,"m":0.0048},
{"t":1822.75,"m":-0.0045},{"t":1822.85,"m":-0.0028},{"t":1822.8,"m":-0.0012},{"t":1822.72,"m":0.0003},{"t":1822.88,"m":0.0017},{"t":1822.78,"m":0.0032},{"t":1822.83,"m":0.0043},
{"t":1823.05,"m":-0.005},{"t":1823.15,"m":-0.0033},{"t":1823.1,"m":-0.0018},{"t":1823.02,"m":-0.0002},{"t":1823.18,"m":0.0012},{"t":1823.08,"m":0.0027},{"t":1823.13,"m":0.0037},
{"t":1823.35,"m":-0.0036},{"t":1823.45,"m":-0.0019},{"t":1823.4,"m":-0.0003},{"t":1823.32,"m":0.0011},{"t":1823.48,"m":0.0026},{"t":1823.38,"m":0.0039},{"t":1823.43,"m":0.0047},
{"t":1823.65,"m":-0.0052},{"t":1823.75,"m":-0.0035},{"t":1823.7,"m":-0.0019},{"t":1823.62,"m":-0.0004},{"t":1823.78,"m":0.001},{"t":1823.68,"m":0.0024},{"t":1823.73,"m":0.0031},
{"t":1823.95,"m":-0.004},{"t":1824.05,"m":-0.0023},{"t":1824.0,"m":-0.0008},{"t":1823.92,"m":0.0007},{"t":1824.08,"m":0.0021},{"t":1823.98,"m":0.0033},
{"t":1824.25,"m":-0.0043},{"t":1824.35,"m":-0.0026},{"t":1824.3,"m":-0.001},{"t":1824.22,"m":0.0005},{"t":1824.38,"m":0.0019},{"t":1824.28,"m":0.0033},{"t":1824.33,"m":0.0044},
{"t":1824.55,"m":-0.0053},{"t":1824.65,"m":-0.0036},{"t":1824.6,"m":-0.0021},{"t":1824.52,"m":-0.0006},{"t":1824.68,"m":0.0009},{"t":1824.58,"m":0.0023},{"t":1824.63,"m":0.0035},{"t":1824.5,"m":0.0041},
{"t":1824.85,"m":-0.0043},{"t":1824.95,"m":-0.0026},{"t":1824.9,"m":-0.001},{"t":1824.82,"m":0.0005},{"t":1824.98,"m":0.0019},{"t":1824.88,"m":0.0033},{"t":1824.93,"m":0.0043},
{"t":1825.15,"m":-0.006},{"t":1825.25,"m":-0.0043},{"t":1825.2,"m":-0.0027},{"t":1825.12,"m":-0.0012},{"t":1825.28,"m":0.0002},{"t":1825.18,"m":0.0017},{"t":1825.23,"m":0.0029},{"t":1825.1,"m":0.004},
{"t":1825.45,"m":-0.0057},{"t":1825.55,"m":-0.004},{"t":1825.5,"m":-0.0024},{"t":1825.42,"m":-0.0009},{"t":1825.58,"m":0.0005},{"t":1825.48,"m":0.002},{"t":1825.53,"m":0.0031},
{"t":1825.75,"m":-0.0066},{"t":1825.85,"m":-0.0049},{"t":1825.8,"m":-0.0033},{"t":1825.72,"m":-0.0018},{"t":1825.88,"m":-0.0004},{"t":1825.78,"m":0.0011},{"t":1825.83,"m":0.0021},{"t":1825.7,"m":0.0041},
{"t":1826.05,"m":-0.0062},{"t":1826.15,"m":-0.0045},{"t":1826.1,"m":-0.0029},{"t":1826.02,"m":-0.0014},{"t":1826.18,"m":0},{"t":1826.08,"m":0.0015},{"t":1826.13,"m":0.0026},{"t":1826.0,"m":0.0052},{"t":1826.16,"m":0.0064},
{"t":1826.35,"m":-0.0071},{"t":1826.45,"m":-0.0054},{"t":1826.4,"m":-0.0038},{"t":1826.32,"m":-0.0023},{"t":1826.48,"m":-0.0009},{"t":1826.38,"m":0.0006},{"t":1826.43,"m":0.0016},{"t":1826.3,"m":0.005},{"t":1826.46,"m":0.0063},
{"t":1826.65,"m":-0.0065},{"t":1826.75,"m":-0.0049},{"t":1826.7,"m":-0.0034},{"t":1826.62,"m":-0.002},{"t":1826.78,"m":-0.0005},{"t":1826.68,"m":0.0011},{"t":1826.73,"m":0.0026},{"t":1826.6,"m":0.0046},{"t":1826.76,"m":0.0062},{"t":1826.67,"m":0.0076},
{"t":1826.95,"m":-0.0075},{"t":1827.05,"m":-0.0059},{"t":1827.0,"m":-0.0045},{"t":1826.92,"m":-0.0037},{"t":1827.08,"m":0.0013},{"t":1826.98,"m":0.0029},{"t":1827.03,"m":0.0045},{"t":1826.9,"m":0.0059},{"t":1827.06,"m":0.0073},
{"t":1827.25,"m":-0.0074},{"t":1827.35,"m":-0.0058},{"t":1827.3,"m":-0.0044},{"t":1827.22,"m":-0.0036},{"t":1827.38,"m":0.0027},{"t":1827.28,"m":0.0043},{"t":1827.33,"m":0.0058},{"t":1827.2,"m":0.0073},{"t":1827.36,"m":0.0087},{"t":1827.27,"m":0.0094},
{"t":1827.55,"m":-0.0069},{"t":1827.62,"m":-0.0053},{"t":1827.58,"m":-0.0043},{"t":1827.52,"m":0.0034},{"t":1827.6,"m":0.005},{"t":1827.56,"m":0.0064},
{"t":1828.78,"m":-0.0058},{"t":1828.84,"m":-0.0042},{"t":1828.8,"m":-0.0028},{"t":1828.76,"m":0.0052},{"t":1828.82,"m":0.0068},{"t":1828.79,"m":0.0082},{"t":1828.85,"m":0.0095},{"t":1828.77,"m":0.0106},
{"t":1828.97,"m":-0.0084},{"t":1829.03,"m":-0.0067},{"t":1829.0,"m":-0.005},{"t":1828.95,"m":-0.0033},{"t":1829.05,"m":-0.0016},{"t":1828.99,"m":0.0024},{"t":1829.02,"m":0.0045},{"t":1828.96,"m":0.0064},{"t":1829.04,"m":0.0084},{"t":1829.0,"m":0.0102},
{"t":1829.15,"m":-0.0082},{"t":1829.25,"m":-0.0066},{"t":1829.2,"m":-0.005},{"t":1829.12,"m":-0.0033},{"t":1829.28,"m":-0.0017},{"t":1829.18,"m":0.0001},{"t":1829.23,"m":0.002},{"t":1829.1,"m":0.0041},{"t":1829.26,"m":0.006},{"t":1829.17,"m":0.008},{"t":1829.22,"m":0.0095},
{"t":1829.45,"m":-0.0075},{"t":1829.55,"m":-0.0059},{"t":1829.5,"m":-0.0043},{"t":1829.42,"m":-0.0028},{"t":1829.58,"m":-0.0014},{"t":1829.48,"m":0.0001},{"t":1829.53,"m":0.0017},{"t":1829.4,"m":0.0033},{"t":1829.56,"m":0.0049},{"t":1829.47,"m":0.0065},{"t":1829.52,"m":0.008},
{"t":1829.75,"m":-0.0088},{"t":1829.85,"m":-0.0072},{"t":1829.8,"m":-0.0056},{"t":1829.72,"m":-0.0041},{"t":1829.88,"m":-0.0026},{"t":1829.78,"m":-0.001},{"t":1829.83,"m":0.0005},{"t":1829.7,"m":0.0019},{"t":1829.86,"m":0.0031},
{"t":1830.05,"m":-0.0073},{"t":1830.15,"m":-0.0056},{"t":1830.1,"m":-0.0041},{"t":1830.02,"m":-0.0026},{"t":1830.18,"m":-0.001},{"t":1830.08,"m":0.0005},{"t":1830.13,"m":0.0019},{"t":1830.0,"m":0.0031},
{"t":1830.35,"m":-0.0077},{"t":1830.45,"m":-0.0061},{"t":1830.4,"m":-0.0045},{"t":1830.32,"m":-0.003},{"t":1830.48,"m":-0.0014},{"t":1830.38,"m":0.0001},{"t":1830.43,"m":0.0015},{"t":1830.3,"m":0.0027},
{"t":1830.65,"m":-0.0065},{"t":1830.75,"m":-0.0048},{"t":1830.7,"m":-0.0033},{"t":1830.62,"m":-0.0018},{"t":1830.78,"m":-0.0002},{"t":1830.68,"m":0.0013},{"t":1830.73,"m":0.0027},{"t":1830.6,"m":0.0037},
{"t":1830.95,"m":-0.0065},{"t":1831.05,"m":-0.0048},{"t":1831.0,"m":-0.0032},{"t":1830.92,"m":-0.0017},{"t":1831.08,"m":-0.0002},{"t":1830.98,"m":0.0013},{"t":1831.03,"m":0.0027},{"t":1830.9,"m":0.0039},
{"t":1831.25,"m":-0.006},{"t":1831.35,"m":-0.0043},{"t":1831.3,"m":-0.0027},{"t":1831.22,"m":-0.0012},{"t":1831.38,"m":0.0003},{"t":1831.28,"m":0.0018},{"t":1831.33,"m":0.0032},{"t":1831.2,"m":0.0045},{"t":1831.36,"m":0.0057},
{"t":1831.55,"m":-0.0062},{"t":1831.65,"m":-0.0045},{"t":1831.6,"m":-0.0029},{"t":1831.52,"m":-0.0014},{"t":1831.68,"m":0.0001},{"t":1831.58,"m":0.0016},{"t":1831.63,"m":0.003},{"t":1831.5,"m":0.0043},{"t":1831.66,"m":0.0056},
{"t":1831.85,"m":-0.005},{"t":1831.95,"m":-0.0033},{"t":1831.9,"m":-0.0017},{"t":1831.82,"m":-0.0002},{"t":1831.98,"m":0.0013},{"t":1831.88,"m":0.0028},{"t":1831.93,"m":0.0042},{"t":1831.8,"m":0.0055},{"t":1831.96,"m":0.0068},
{"t":1832.15,"m":-0.0059},{"t":1832.25,"m":-0.0042},{"t":1832.2,"m":-0.0026},{"t":1832.12,"m":-0.0011},{"t":1832.28,"m":0.0004},{"t":1832.18,"m":0.0019},{"t":1832.23,"m":0.0033},{"t":1832.1,"m":0.0046},{"t":1832.26,"m":0.006},
{"t":1832.45,"m":-0.0057},{"t":1832.55,"m":-0.004},{"t":1832.5,"m":-0.0024},{"t":1832.42,"m":-0.0009},{"t":1832.58,"m":0.0006},{"t":1832.48,"m":0.0021},{"t":1832.53,"m":0.0035},{"t":1832.4,"m":0.0048},{"t":1832.56,"m":0.006},
{"t":1832.75,"m":-0.0063},{"t":1832.85,"m":-0.0046},{"t":1832.8,"m":-0.003},{"t":1832.72,"m":-0.0015},{"t":1832.88,"m":0},{"t":1832.78,"m":0.0015},{"t":1832.83,"m":0.0029},{"t":1832.7,"m":0.0042},{"t":1832.86,"m":0.0054},
{"t":1833.05,"m":-0.005},{"t":1833.15,"m":-0.0033},{"t":1833.1,"m":-0.0017},{"t":1833.02,"m":-0.0002},{"t":1833.18,"m":0.0013},{"t":1833.08,"m":0.0028},{"t":1833.13,"m":0.0042},{"t":1833.0,"m":0.0055},{"t":1833.16,"m":0.0067},
{"t":1833.35,"m":-0.0066},{"t":1833.45,"m":-0.0049},{"t":1833.4,"m":-0.0033},{"t":1833.32,"m":-0.0018},{"t":1833.48,"m":-0.0003},{"t":1833.38,"m":0.0012},{"t":1833.43,"m":0.0026},{"t":1833.3,"m":0.0039},{"t":1833.46,"m":0.0052},{"t":1833.37,"m":0.0064},
{"t":1833.65,"m":-0.0055},{"t":1833.75,"m":-0.0038},{"t":1833.7,"m":-0.0022},{"t":1833.62,"m":-0.0007},{"t":1833.78,"m":0.0008},{"t":1833.68,"m":0.0023},{"t":1833.73,"m":0.0037},{"t":1833.6,"m":0.005},{"t":1833.76,"m":0.0063},{"t":1833.67,"m":0.0074},
{"t":1833.95,"m":-0.0058},{"t":1834.05,"m":-0.0041},{"t":1834.0,"m":-0.0025},{"t":1833.92,"m":-0.001},{"t":1834.08,"m":0.0005},{"t":1833.98,"m":0.002},{"t":1834.03,"m":0.0034},{"t":1833.9,"m":0.0047},{"t":1834.06,"m":0.006},{"t":1833.97,"m":0.0074},
{"t":1834.25,"m":-0.0071},{"t":1834.35,"m":-0.0054},{"t":1834.3,"m":-0.0038},{"t":1834.22,"m":-0.0023},{"t":1834.38,"m":-0.0008},{"t":1834.28,"m":0.0007},{"t":1834.33,"m":0.0021},{"t":1834.2,"m":0.0034},{"t":1834.36,"m":0.0047},{"t":1834.27,"m":0.0061},{"t":1834.32,"m":0.0072},
{"t":1834.55,"m":-0.0069},{"t":1834.65,"m":-0.0052},{"t":1834.6,"m":-0.0036},{"t":1834.52,"m":-0.0021},{"t":1834.68,"m":-0.0006},{"t":1834.58,"m":0.0009},{"t":1834.63,"m":0.0023},{"t":1834.5,"m":0.0036},{"t":1834.66,"m":0.0049},{"t":1834.57,"m":0.0063},{"t":1834.62,"m":0.0076},
{"t":1834.85,"m":-0.0083},{"t":1834.95,"m":-0.0066},{"t":1834.9,"m":-0.005},{"t":1834.82,"m":-0.0035},{"t":1834.98,"m":-0.002},{"t":1834.88,"m":-0.0005},{"t":1834.93,"m":0.0009},{"t":1834.8,"m":0.0022},{"t":1834.96,"m":0.0035},{"t":1834.87,"m":0.0049},{"t":1834.92,"m":0.0063},
{"t":1835.15,"m":-0.0079},{"t":1835.25,"m":-0.0062},{"t":1835.2,"m":-0.0046},{"t":1835.12,"m":-0.0031},{"t":1835.28,"m":-0.0016},{"t":1835.18,"m":-0.0001},{"t":1835.23,"m":0.0013},{"t":1835.1,"m":0.0026},{"t":1835.26,"m":0.0039},{"t":1835.17,"m":0.0053},{"t":1835.22,"m":0.0067},{"t":1835.13,"m":0.0077},
{"t":1835.45,"m":-0.0088},{"t":1835.55,"m":-0.0071},{"t":1835.5,"m":-0.0055},{"t":1835.42,"m":-0.004},{"t":1835.58,"m":-0.0025},{"t":1835.48,"m":-0.001},{"t":1835.53,"m":0.0004},{"t":1835.4,"m":0.0017},{"t":1835.56,"m":0.003},{"t":1835.47,"m":0.0044},{"t":1835.52,"m":0.0058},{"t":1835.43,"m":0.0075},
{"t":1835.75,"m":-0.0082},{"t":1835.85,"m":-0.0065},{"t":1835.8,"m":-0.0049},{"t":1835.72,"m":-0.0034},{"t":1835.88,"m":-0.0019},{"t":1835.78,"m":-0.0004},{"t":1835.83,"m":0.001},{"t":1835.7,"m":0.0023},{"t":1835.86,"m":0.0036},{"t":1835.77,"m":0.005},{"t":1835.82,"m":0.0064},{"t":1835.73,"m":0.008},
{"t":1836.05,"m":-0.009},{"t":1836.15,"m":-0.0073},{"t":1836.1,"m":-0.0057},{"t":1836.02,"m":-0.0042},{"t":1836.18,"m":-0.0027},{"t":1836.08,"m":-0.0012},{"t":1836.13,"m":0.0002},{"t":1836.0,"m":0.0015},{"t":1836.16,"m":0.0028},{"t":1836.07,"m":0.0042},{"t":1836.12,"m":0.0056},{"t":1836.03,"m":0.007},{"t":1836.17,"m":0.008},
{"t":1836.35,"m":-0.0079},{"t":1836.45,"m":-0.0062},{"t":1836.4,"m":-0.0046},{"t":1836.32,"m":-0.0031},{"t":1836.48,"m":-0.0016},{"t":1836.38,"m":-0.0001},{"t":1836.43,"m":0.0013},{"t":1836.3,"m":0.0026},{"t":1836.46,"m":0.0039},{"t":1836.37,"m":0.0053},{"t":1836.42,"m":0.0067},{"t":1836.33,"m":0.0081},
{"t":1836.65,"m":-0.0088},{"t":1836.75,"m":-0.0071},{"t":1836.7,"m":-0.0055},{"t":1836.62,"m":-0.004},{"t":1836.78,"m":-0.0025},{"t":1836.68,"m":-0.001},{"t":1836.73,"m":0.0004},{"t":1836.6,"m":0.0017},{"t":1836.76,"m":0.003},{"t":1836.67,"m":0.0044},{"t":1836.72,"m":0.0058},{"t":1836.63,"m":0.0069},
{"t":1836.95,"m":-0.0078},{"t":1837.05,"m":-0.0061},{"t":1837.0,"m":-0.0045},{"t":1836.92,"m":-0.003},{"t":1837.08,"m":-0.0015},{"t":1836.98,"m":0},{"t":1837.03,"m":0.0014},{"t":1836.9,"m":0.0027},{"t":1837.06,"m":0.004},{"t":1836.97,"m":0.0054},{"t":1837.02,"m":0.0071},
{"t":1837.25,"m":-0.0085},{"t":1837.35,"m":-0.0068},{"t":1837.3,"m":-0.0052},{"t":1837.22,"m":-0.0037},{"t":1837.38,"m":-0.0022},{"t":1837.28,"m":-0.0007},{"t":1837.33,"m":0.0007},{"t":1837.2,"m":0.002},{"t":1837.36,"m":0.0033},{"t":1837.27,"m":0.0047},{"t":1837.32,"m":0.0061},{"t":1837.23,"m":0.0072},
{"t":1837.55,"m":-0.0069},{"t":1837.65,"m":-0.0052},{"t":1837.6,"m":-0.0036},{"t":1837.52,"m":-0.0021},{"t":1837.68,"m":-0.0006},{"t":1837.58,"m":0.0009},{"t":1837.63,"m":0.0023},{"t":1837.5,"m":0.0036},{"t":1837.66,"m":0.0049},{"t":1837.57,"m":0.0063},{"t":1837.62,"m":0.0075},
{"t":1837.85,"m":-0.0075},{"t":1837.95,"m":-0.0058},{"t":1837.9,"m":-0.0042},{"t":1837.82,"m":-0.0027},{"t":1837.98,"m":-0.0012},{"t":1837.88,"m":0.0003},{"t":1837.93,"m":0.0017},{"t":1837.8,"m":0.003},{"t":1837.96,"m":0.0043},{"t":1837.87,"m":0.0056},
{"t":1838.15,"m":-0.0064},{"t":1838.25,"m":-0.0047},{"t":1838.2,"m":-0.0031},{"t":1838.12,"m":-0.0016},{"t":1838.28,"m":-0.0001},{"t":1838.18,"m":0.0014},{"t":1838.23,"m":0.0028},{"t":1838.1,"m":0.0041},{"t":1838.26,"m":0.0054},
{"t":1838.45,"m":-0.0053},{"t":1838.55,"m":-0.0036},{"t":1838.5,"m":-0.002},{"t":1838.42,"m":-0.0005},{"t":1838.58,"m":0.001},{"t":1838.48,"m":0.0025},{"t":1838.53,"m":0.0039},{"t":1838.4,"m":0.005},
{"t":1838.75,"m":-0.0056},{"t":1838.85,"m":-0.0039},{"t":1838.8,"m":-0.0023},{"t":1838.72,"m":-0.0008},{"t":1838.88,"m":0.0007},{"t":1838.78,"m":0.0021},{"t":1838.83,"m":0.0033},
{"t":1839.05,"m":-0.0047},{"t":1839.15,"m":-0.003},{"t":1839.1,"m":-0.0014},{"t":1839.02,"m":0.0001},{"t":1839.18,"m":0.0016},{"t":1839.08,"m":0.0029},{"t":1839.13,"m":0.0036},
{"t":1839.35,"m":-0.0053},{"t":1839.45,"m":-0.0036},{"t":1839.4,"m":-0.002},{"t":1839.32,"m":-0.0005},{"t":1839.48,"m":0.0009},{"t":1839.38,"m":0.002},
{"t":1839.65,"m":-0.0041},{"t":1839.75,"m":-0.0024},{"t":1839.7,"m":-0.0008},{"t":1839.62,"m":0.0007},{"t":1839.78,"m":0.002},{"t":1839.68,"m":0.003},
{"t":1839.95,"m":-0.0051},{"t":1840.05,"m":-0.0034},{"t":1840.0,"m":-0.0018},{"t":1839.92,"m":-0.0003},{"t":1840.08,"m":0.0011},{"t":1839.98,"m":0.0021},
{"t":1840.25,"m":-0.0036},{"t":1840.35,"m":-0.0019},{"t":1840.3,"m":-0.0003},{"t":1840.22,"m":0.0012},{"t":1840.38,"m":0.0022},
{"t":1840.55,"m":-0.0038},{"t":1840.65,"m":-0.0021},{"t":1840.6,"m":-0.0005},{"t":1840.52,"m":0.0009},{"t":1840.68,"m":0.0018},
{"t":1840.85,"m":-0.0026},{"t":1840.95,"m":-0.0009},{"t":1840.9,"m":0.0007},{"t":1840.82,"m":0.002},{"t":1840.98,"m":0.0025},
{"t":1816.35,"m":-0.0032},{"t":1816.35,"m":-0.0016},{"t":1816.35,"m":-0.0003},{"t":1816.35,"m":0.0008},{"t":1816.35,"m":0.0019},
{"t":1816.65,"m":-0.0032},{"t":1816.65,"m":-0.0018},{"t":1816.65,"m":-0.0003},{"t":1816.65,"m":0.0009},{"t":1816.65,"m":0.002},
{"t":1816.95,"m":-0.003},{"t":1816.95,"m":-0.0019},{"t":1816.95,"m":-0.0005},{"t":1816.95,"m":0.0008},{"t":1816.95,"m":0.002},
{"t":1817.25,"m":-0.0022},{"t":1817.25,"m":-0.0007},{"t":1817.25,"m":0.0006},{"t":1817.25,"m":0.0017},
{"t":1817.55,"m":-0.0021},{"t":1817.55,"m":-0.0008},{"t":1817.55,"m":0.0006},{"t":1817.55,"m":0.0017},
{"t":1817.85,"m":-0.0028},{"t":1817.85,"m":-0.0017},{"t":1817.85,"m":-0.0006},{"t":1817.85,"m":0.0006},{"t":1817.85,"m":0.0019},
{"t":1818.15,"m":-0.002},{"t":1818.15,"m":-0.0007},{"t":1818.15,"m":0.0005},{"t":1818.15,"m":0.0016},
{"t":1818.45,"m":-0.0021},{"t":1818.45,"m":-0.0007},{"t":1818.45,"m":0.0005},{"t":1818.45,"m":0.0018},
{"t":1818.75,"m":-0.002},{"t":1818.75,"m":-0.0006},{"t":1818.75,"m":0.0006},{"t":1818.75,"m":0.002},
{"t":1819.05,"m":-0.0033},{"t":1819.05,"m":-0.002},{"t":1819.05,"m":-0.0006},{"t":1819.05,"m":0.0007},{"t":1819.05,"m":0.0019},{"t":1819.05,"m":0.0031},
{"t":1819.35,"m":-0.0038},{"t":1819.35,"m":-0.0024},{"t":1819.35,"m":-0.001},{"t":1819.35,"m":0.0005},{"t":1819.35,"m":0.0017},{"t":1819.35,"m":0.0029},
{"t":1819.65,"m":-0.0039},{"t":1819.65,"m":-0.0023},{"t":1819.65,"m":-0.0008},{"t":1819.65,"m":0.0005},{"t":1819.65,"m":0.0019},{"t":1819.65,"m":0.0036},{"t":1819.65,"m":0.0042},
{"t":1819.95,"m":-0.0042},{"t":1819.95,"m":-0.0025},{"t":1819.95,"m":-0.001},{"t":1819.95,"m":0.0004},{"t":1819.95,"m":0.0018},{"t":1819.95,"m":0.0032},
{"t":1820.25,"m":-0.0049},{"t":1820.25,"m":-0.0033},{"t":1820.25,"m":-0.0018},{"t":1820.25,"m":-0.0004},{"t":1820.25,"m":0.0009},{"t":1820.25,"m":0.0025},{"t":1820.25,"m":0.0039},
{"t":1820.55,"m":-0.0051},{"t":1820.55,"m":-0.0035},{"t":1820.55,"m":-0.0019},{"t":1820.55,"m":-0.0004},{"t":1820.55,"m":0.001},{"t":1820.55,"m":0.0025},{"t":1820.55,"m":0.0039},{"t":1820.55,"m":0.0051},
{"t":1820.85,"m":-0.0055},{"t":1820.85,"m":-0.0039},{"t":1820.85,"m":-0.0023},{"t":1820.85,"m":-0.0008},{"t":1820.85,"m":0.0007},{"t":1820.85,"m":0.0021},{"t":1820.85,"m":0.0035},{"t":1820.85,"m":0.0046},
{"t":1821.15,"m":-0.0064},{"t":1821.15,"m":-0.0048},{"t":1821.15,"m":-0.0032},{"t":1821.15,"m":-0.0017},{"t":1821.15,"m":-0.0001},{"t":1821.15,"m":0.0013},{"t":1821.15,"m":0.0028},{"t":1821.15,"m":0.0042},{"t":1821.15,"m":0.0053},
{"t":1821.45,"m":-0.006},{"t":1821.45,"m":-0.0044},{"t":1821.45,"m":-0.0028},{"t":1821.45,"m":-0.0013},{"t":1821.45,"m":0.0001},{"t":1821.45,"m":0.0016},{"t":1821.45,"m":0.003},{"t":1821.45,"m":0.0042},
{"t":1821.75,"m":-0.0048},{"t":1821.75,"m":-0.0032},{"t":1821.75,"m":-0.0016},{"t":1821.75,"m":-0.0001},{"t":1821.75,"m":0.0014},{"t":1821.75,"m":0.0029},{"t":1821.75,"m":0.0043},{"t":1821.75,"m":0.0056},{"t":1821.75,"m":0.0066},
{"t":1822.05,"m":-0.0047},{"t":1822.05,"m":-0.003},{"t":1822.05,"m":-0.0015},{"t":1822.05,"m":0},{"t":1822.05,"m":0.0015},{"t":1822.05,"m":0.0029},{"t":1822.05,"m":0.0042},{"t":1822.05,"m":0.0053},
{"t":1822.35,"m":-0.0043},{"t":1822.35,"m":-0.0026},{"t":1822.35,"m":-0.001},{"t":1822.35,"m":0.0004},{"t":1822.35,"m":0.0019},{"t":1822.35,"m":0.0034},{"t":1822.35,"m":0.0047},
{"t":1822.65,"m":-0.0047},{"t":1822.65,"m":-0.003},{"t":1822.65,"m":-0.0015},{"t":1822.65,"m":0},{"t":1822.65,"m":0.0015},{"t":1822.65,"m":0.0029},{"t":1822.65,"m":0.0042},
{"t":1822.95,"m":-0.0037},{"t":1822.95,"m":-0.002},{"t":1822.95,"m":-0.0004},{"t":1822.95,"m":0.001},{"t":1822.95,"m":0.0025},{"t":1822.95,"m":0.0037},
{"t":1823.25,"m":-0.0042},{"t":1823.25,"m":-0.0025},{"t":1823.25,"m":-0.001},{"t":1823.25,"m":0.0005},{"t":1823.25,"m":0.002},{"t":1823.25,"m":0.0032},
{"t":1823.55,"m":-0.0043},{"t":1823.55,"m":-0.0028},{"t":1823.55,"m":-0.0011},{"t":1823.55,"m":0.0004},{"t":1823.55,"m":0.0019},{"t":1823.55,"m":0.0032},
{"t":1823.85,"m":-0.0044},{"t":1823.85,"m":-0.0027},{"t":1823.85,"m":-0.0011},{"t":1823.85,"m":0.0003},{"t":1823.85,"m":0.0017},{"t":1823.85,"m":0.0036},
{"t":1824.15,"m":-0.0032},{"t":1824.15,"m":-0.0015},{"t":1824.15,"m":0},{"t":1824.15,"m":0.0014},{"t":1824.15,"m":0.0027},
{"t":1824.45,"m":-0.0035},{"t":1824.45,"m":-0.0018},{"t":1824.45,"m":-0.0002},{"t":1824.45,"m":0.0012},{"t":1824.45,"m":0.0026},{"t":1824.45,"m":0.0039},
{"t":1824.75,"m":-0.0045},{"t":1824.75,"m":-0.0028},{"t":1824.75,"m":-0.0013},{"t":1824.75,"m":0.0002},{"t":1824.75,"m":0.0016},{"t":1824.75,"m":0.0029},
{"t":1825.05,"m":-0.005},{"t":1825.05,"m":-0.0035},{"t":1825.05,"m":-0.0018},{"t":1825.05,"m":-0.0002},{"t":1825.05,"m":0.0012},{"t":1825.05,"m":0.0026},{"t":1825.05,"m":0.0038},
{"t":1825.35,"m":-0.0052},{"t":1825.35,"m":-0.0035},{"t":1825.35,"m":-0.0019},{"t":1825.35,"m":-0.0005},{"t":1825.35,"m":0.0009},{"t":1825.35,"m":0.0023},{"t":1825.35,"m":0.0035},
{"t":1825.65,"m":-0.0049},{"t":1825.65,"m":-0.0032},{"t":1825.65,"m":-0.0016},{"t":1825.65,"m":-0.0002},{"t":1825.65,"m":0.0012},{"t":1825.65,"m":0.0026},{"t":1825.65,"m":0.004},
{"t":1825.95,"m":-0.0058},{"t":1825.95,"m":-0.0041},{"t":1825.95,"m":-0.0025},{"t":1825.95,"m":-0.0011},{"t":1825.95,"m":0.0004},{"t":1825.95,"m":0.0016},{"t":1825.95,"m":0.0033},{"t":1825.95,"m":0.005},
{"t":1826.25,"m":-0.0069},{"t":1826.25,"m":-0.0054},{"t":1826.25,"m":-0.0037},{"t":1826.25,"m":-0.0021},{"t":1826.25,"m":-0.0007},{"t":1826.25,"m":0.0008},{"t":1826.25,"m":0.002},{"t":1826.25,"m":0.0046},{"t":1826.25,"m":0.0058},
{"t":1826.55,"m":-0.0063},{"t":1826.55,"m":-0.0046},{"t":1826.55,"m":-0.003},{"t":1826.55,"m":-0.0015},{"t":1826.55,"m":-0.0001},{"t":1826.55,"m":0.0012},{"t":1826.55,"m":0.0057},{"t":1826.55,"m":0.0069},
{"t":1826.85,"m":-0.0072},{"t":1826.85,"m":-0.0057},{"t":1826.85,"m":-0.0041},{"t":1826.85,"m":-0.0027},{"t":1826.85,"m":-0.0012},{"t":1826.85,"m":0.0003},{"t":1826.85,"m":0.0019},{"t":1826.85,"m":0.0036},{"t":1826.85,"m":0.0054},{"t":1826.85,"m":0.0069},
{"t":1827.15,"m":-0.0067},{"t":1827.15,"m":-0.0052},{"t":1827.15,"m":-0.0041},{"t":1827.15,"m":0.0021},{"t":1827.15,"m":0.0037},{"t":1827.15,"m":0.0052},{"t":1827.15,"m":0.0066},{"t":1827.15,"m":0.008},
{"t":1827.45,"m":-0.0066},{"t":1827.45,"m":-0.0051},{"t":1827.45,"m":-0.004},{"t":1827.45,"m":0.0035},{"t":1827.45,"m":0.005},{"t":1827.45,"m":0.0065},{"t":1827.45,"m":0.008},{"t":1827.45,"m":0.0089},
{"t":1828.88,"m":-0.007},{"t":1828.88,"m":-0.005},{"t":1828.88,"m":-0.0035},{"t":1828.88,"m":0.0044},{"t":1828.88,"m":0.006},{"t":1828.88,"m":0.0075},{"t":1828.88,"m":0.0088},{"t":1828.88,"m":0.01},
{"t":1829.1,"m":-0.0076},{"t":1829.1,"m":-0.0059},{"t":1829.1,"m":-0.0042},{"t":1829.1,"m":-0.0025},{"t":1829.1,"m":-0.0006},{"t":1829.1,"m":0.001},{"t":1829.1,"m":0.0035},{"t":1829.1,"m":0.0055},{"t":1829.1,"m":0.0074},{"t":1829.1,"m":0.0093},
{"t":1829.35,"m":-0.0074},{"t":1829.35,"m":-0.0058},{"t":1829.35,"m":-0.0042},{"t":1829.35,"m":-0.0025},{"t":1829.35,"m":-0.0008},{"t":1829.35,"m":0.001},{"t":1829.35,"m":0.003},{"t":1829.35,"m":0.005},{"t":1829.35,"m":0.007},{"t":1829.35,"m":0.0087},
{"t":1829.65,"m":-0.0083},{"t":1829.65,"m":-0.0067},{"t":1829.65,"m":-0.0051},{"t":1829.65,"m":-0.0035},{"t":1829.65,"m":-0.0021},{"t":1829.65,"m":-0.0006},{"t":1829.65,"m":0.0009},{"t":1829.65,"m":0.0025},{"t":1829.65,"m":0.0041},{"t":1829.65,"m":0.0057},{"t":1829.65,"m":0.0072},
{"t":1829.95,"m":-0.008},{"t":1829.95,"m":-0.0064},{"t":1829.95,"m":-0.0048},{"t":1829.95,"m":-0.0033},{"t":1829.95,"m":-0.0018},{"t":1829.95,"m":-0.0002},{"t":1829.95,"m":0.0012},{"t":1829.95,"m":0.0025},
{"t":1830.25,"m":-0.008},{"t":1830.25,"m":-0.0065},{"t":1830.25,"m":-0.0048},{"t":1830.25,"m":-0.0033},{"t":1830.25,"m":-0.0018},{"t":1830.25,"m":-0.0003},{"t":1830.25,"m":0.0012},{"t":1830.25,"m":0.0025},
{"t":1830.55,"m":-0.0069},{"t":1830.55,"m":-0.0053},{"t":1830.55,"m":-0.0037},{"t":1830.55,"m":-0.0022},{"t":1830.55,"m":-0.0006},{"t":1830.55,"m":0.0008},{"t":1830.55,"m":0.0021},{"t":1830.55,"m":0.0034},
{"t":1830.85,"m":-0.0057},{"t":1830.85,"m":-0.004},{"t":1830.85,"m":-0.0025},{"t":1830.85,"m":-0.001},{"t":1830.85,"m":0.0005},{"t":1830.85,"m":0.002},{"t":1830.85,"m":0.0032},
{"t":1831.15,"m":-0.0057},{"t":1831.15,"m":-0.004},{"t":1831.15,"m":-0.0024},{"t":1831.15,"m":-0.0009},{"t":1831.15,"m":0.0006},{"t":1831.15,"m":0.002},{"t":1831.15,"m":0.0033},{"t":1831.15,"m":0.0046},
{"t":1831.45,"m":-0.0066},{"t":1831.45,"m":-0.0051},{"t":1831.45,"m":-0.0035},{"t":1831.45,"m":-0.002},{"t":1831.45,"m":-0.0005},{"t":1831.45,"m":0.001},{"t":1831.45,"m":0.0025},{"t":1831.45,"m":0.0038},{"t":1831.45,"m":0.0051},
{"t":1831.75,"m":-0.0054},{"t":1831.75,"m":-0.0037},{"t":1831.75,"m":-0.0021},{"t":1831.75,"m":-0.0006},{"t":1831.75,"m":0.0009},{"t":1831.75,"m":0.0023},{"t":1831.75,"m":0.0037},{"t":1831.75,"m":0.005},{"t":1831.75,"m":0.0062},
{"t":1832.05,"m":-0.0058},{"t":1832.05,"m":-0.0042},{"t":1832.05,"m":-0.0025},{"t":1832.05,"m":-0.001},{"t":1832.05,"m":0.0005},{"t":1832.05,"m":0.002},{"t":1832.05,"m":0.0035},{"t":1832.05,"m":0.0049},{"t":1832.05,"m":0.0061},
{"t":1832.35,"m":-0.0051},{"t":1832.35,"m":-0.0034},{"t":1832.35,"m":-0.0018},{"t":1832.35,"m":-0.0003},{"t":1832.35,"m":0.0012},{"t":1832.35,"m":0.0026},{"t":1832.35,"m":0.004},{"t":1832.35,"m":0.0053},{"t":1832.35,"m":0.0066},
{"t":1832.65,"m":-0.0049},{"t":1832.65,"m":-0.0032},{"t":1832.65,"m":-0.0016},{"t":1832.65,"m":-0.0001},{"t":1832.65,"m":0.0014},{"t":1832.65,"m":0.0028},{"t":1832.65,"m":0.0042},{"t":1832.65,"m":0.0054},
{"t":1832.95,"m":-0.0055},{"t":1832.95,"m":-0.0038},{"t":1832.95,"m":-0.0022},{"t":1832.95,"m":-0.0007},{"t":1832.95,"m":0.0008},{"t":1832.95,"m":0.0022},{"t":1832.95,"m":0.0036},{"t":1832.95,"m":0.0048},{"t":1832.95,"m":0.006},
{"t":1833.25,"m":-0.0058},{"t":1833.25,"m":-0.0042},{"t":1833.25,"m":-0.0025},{"t":1833.25,"m":-0.001},{"t":1833.25,"m":0.0005},{"t":1833.25,"m":0.002},{"t":1833.25,"m":0.0035},{"t":1833.25,"m":0.0049},{"t":1833.25,"m":0.0061},
{"t":1833.55,"m":-0.0058},{"t":1833.55,"m":-0.0041},{"t":1833.55,"m":-0.0025},{"t":1833.55,"m":-0.001},{"t":1833.55,"m":0.0005},{"t":1833.55,"m":0.0019},{"t":1833.55,"m":0.0033},{"t":1833.55,"m":0.0046},{"t":1833.55,"m":0.0058},{"t":1833.55,"m":0.007},
{"t":1833.85,"m":-0.0063},{"t":1833.85,"m":-0.0047},{"t":1833.85,"m":-0.003},{"t":1833.85,"m":-0.0015},{"t":1833.85,"m":0},{"t":1833.85,"m":0.0015},{"t":1833.85,"m":0.003},{"t":1833.85,"m":0.0043},{"t":1833.85,"m":0.0056},{"t":1833.85,"m":0.0068},
{"t":1834.15,"m":-0.0066},{"t":1834.15,"m":-0.005},{"t":1834.15,"m":-0.0033},{"t":1834.15,"m":-0.0018},{"t":1834.15,"m":-0.0003},{"t":1834.15,"m":0.0012},{"t":1834.15,"m":0.0027},{"t":1834.15,"m":0.004},{"t":1834.15,"m":0.0054},{"t":1834.15,"m":0.0067},
{"t":1834.45,"m":-0.0063},{"t":1834.45,"m":-0.0046},{"t":1834.45,"m":-0.003},{"t":1834.45,"m":-0.0015},{"t":1834.45,"m":0},{"t":1834.45,"m":0.0014},{"t":1834.45,"m":0.0028},{"t":1834.45,"m":0.0041},{"t":1834.45,"m":0.0054},{"t":1834.45,"m":0.0068},
{"t":1834.75,"m":-0.0077},{"t":1834.75,"m":-0.0061},{"t":1834.75,"m":-0.0044},{"t":1834.75,"m":-0.0029},{"t":1834.75,"m":-0.0014},{"t":1834.75,"m":0.0002},{"t":1834.75,"m":0.0016},{"t":1834.75,"m":0.003},{"t":1834.75,"m":0.0043},{"t":1834.75,"m":0.0056},{"t":1834.75,"m":0.007},
{"t":1835.05,"m":-0.0075},{"t":1835.05,"m":-0.0058},{"t":1835.05,"m":-0.0042},{"t":1835.05,"m":-0.0027},{"t":1835.05,"m":-0.0012},{"t":1835.05,"m":0.0002},{"t":1835.05,"m":0.0016},{"t":1835.05,"m":0.0029},{"t":1835.05,"m":0.0042},{"t":1835.05,"m":0.0056},{"t":1835.05,"m":0.0071},
{"t":1835.35,"m":-0.0086},{"t":1835.35,"m":-0.007},{"t":1835.35,"m":-0.0054},{"t":1835.35,"m":-0.0039},{"t":1835.35,"m":-0.0024},{"t":1835.35,"m":-0.0009},{"t":1835.35,"m":0.0006},{"t":1835.35,"m":0.002},{"t":1835.35,"m":0.0033},{"t":1835.35,"m":0.0046},{"t":1835.35,"m":0.006},{"t":1835.35,"m":0.0072},
{"t":1835.65,"m":-0.008},{"t":1835.65,"m":-0.0063},{"t":1835.65,"m":-0.0047},{"t":1835.65,"m":-0.0032},{"t":1835.65,"m":-0.0017},{"t":1835.65,"m":-0.0003},{"t":1835.65,"m":0.0011},{"t":1835.65,"m":0.0024},{"t":1835.65,"m":0.0037},{"t":1835.65,"m":0.0051},{"t":1835.65,"m":0.0066},{"t":1835.65,"m":0.008},
{"t":1835.95,"m":-0.0088},{"t":1835.95,"m":-0.0073},{"t":1835.95,"m":-0.0057},{"t":1835.95,"m":-0.0041},{"t":1835.95,"m":-0.0026},{"t":1835.95,"m":-0.0011},{"t":1835.95,"m":0.0003},{"t":1835.95,"m":0.0017},{"t":1835.95,"m":0.003},{"t":1835.95,"m":0.0043},{"t":1835.95,"m":0.0057},{"t":1835.95,"m":0.0072},
{"t":1836.25,"m":-0.0082},{"t":1836.25,"m":-0.0065},{"t":1836.25,"m":-0.0049},{"t":1836.25,"m":-0.0034},{"t":1836.25,"m":-0.0019},{"t":1836.25,"m":-0.0005},{"t":1836.25,"m":0.0009},{"t":1836.25,"m":0.0022},{"t":1836.25,"m":0.0035},{"t":1836.25,"m":0.0049},{"t":1836.25,"m":0.0063},{"t":1836.25,"m":0.0076},
{"t":1836.55,"m":-0.0086},{"t":1836.55,"m":-0.007},{"t":1836.55,"m":-0.0054},{"t":1836.55,"m":-0.0038},{"t":1836.55,"m":-0.0023},{"t":1836.55,"m":-0.0009},{"t":1836.55,"m":0.0006},{"t":1836.55,"m":0.002},{"t":1836.55,"m":0.0033},{"t":1836.55,"m":0.0046},{"t":1836.55,"m":0.006},{"t":1836.55,"m":0.0074},
{"t":1836.85,"m":-0.008},{"t":1836.85,"m":-0.0063},{"t":1836.85,"m":-0.0047},{"t":1836.85,"m":-0.0032},{"t":1836.85,"m":-0.0017},{"t":1836.85,"m":-0.0003},{"t":1836.85,"m":0.0011},{"t":1836.85,"m":0.0024},{"t":1836.85,"m":0.0037},{"t":1836.85,"m":0.0051},{"t":1836.85,"m":0.0064},{"t":1836.85,"m":0.0076},
{"t":1837.15,"m":-0.0085},{"t":1837.15,"m":-0.0069},{"t":1837.15,"m":-0.0053},{"t":1837.15,"m":-0.0038},{"t":1837.15,"m":-0.0022},{"t":1837.15,"m":-0.0008},{"t":1837.15,"m":0.0007},{"t":1837.15,"m":0.002},{"t":1837.15,"m":0.0033},{"t":1837.15,"m":0.0047},{"t":1837.15,"m":0.0062},
{"t":1837.45,"m":-0.0077},{"t":1837.45,"m":-0.006},{"t":1837.45,"m":-0.0044},{"t":1837.45,"m":-0.0029},{"t":1837.45,"m":-0.0014},{"t":1837.45,"m":0},{"t":1837.45,"m":0.0014},{"t":1837.45,"m":0.0027},{"t":1837.45,"m":0.004},{"t":1837.45,"m":0.0054},{"t":1837.45,"m":0.0067},
{"t":1837.75,"m":-0.0076},{"t":1837.75,"m":-0.006},{"t":1837.75,"m":-0.0044},{"t":1837.75,"m":-0.0029},{"t":1837.75,"m":-0.0014},{"t":1837.75,"m":0.0001},{"t":1837.75,"m":0.0016},{"t":1837.75,"m":0.003},{"t":1837.75,"m":0.0043},{"t":1837.75,"m":0.0056},{"t":1837.75,"m":0.0069},
{"t":1838.05,"m":-0.0067},{"t":1838.05,"m":-0.005},{"t":1838.05,"m":-0.0034},{"t":1838.05,"m":-0.0019},{"t":1838.05,"m":-0.0004},{"t":1838.05,"m":0.001},{"t":1838.05,"m":0.0024},{"t":1838.05,"m":0.0037},{"t":1838.05,"m":0.005},{"t":1838.05,"m":0.006},
{"t":1838.35,"m":-0.0056},{"t":1838.35,"m":-0.0039},{"t":1838.35,"m":-0.0023},{"t":1838.35,"m":-0.0008},{"t":1838.35,"m":0.0007},{"t":1838.35,"m":0.0021},{"t":1838.35,"m":0.0035},{"t":1838.35,"m":0.0048},
{"t":1838.65,"m":-0.006},{"t":1838.65,"m":-0.0044},{"t":1838.65,"m":-0.0028},{"t":1838.65,"m":-0.0012},{"t":1838.65,"m":0.0002},{"t":1838.65,"m":0.0017},{"t":1838.65,"m":0.0032},{"t":1838.65,"m":0.0044},
{"t":1838.95,"m":-0.0048},{"t":1838.95,"m":-0.0031},{"t":1838.95,"m":-0.0015},{"t":1838.95,"m":0},{"t":1838.95,"m":0.0014},{"t":1838.95,"m":0.0027},
{"t":1839.25,"m":-0.0052},{"t":1839.25,"m":-0.0038},{"t":1839.25,"m":-0.0022},{"t":1839.25,"m":-0.0007},{"t":1839.25,"m":0.0008},{"t":1839.25,"m":0.0022},
{"t":1839.55,"m":-0.0045},{"t":1839.55,"m":-0.0028},{"t":1839.55,"m":-0.0012},{"t":1839.55,"m":0.0002},{"t":1839.55,"m":0.0015},{"t":1839.55,"m":0.0027},
{"t":1839.85,"m":-0.0048},{"t":1839.85,"m":-0.0032},{"t":1839.85,"m":-0.0016},{"t":1839.85,"m":0},{"t":1839.85,"m":0.0013},{"t":1839.85,"m":0.0024},
{"t":1840.15,"m":-0.0043},{"t":1840.15,"m":-0.0026},{"t":1840.15,"m":-0.001},{"t":1840.15,"m":0.0004},{"t":1840.15,"m":0.0016},
{"t":1840.45,"m":-0.0028},{"t":1840.45,"m":-0.0011},{"t":1840.45,"m":0.0005},{"t":1840.45,"m":0.0017},
{"t":1840.75,"m":-0.003},{"t":1840.75,"m":-0.0013},{"t":1840.75,"m":0.0002},{"t":1840.75,"m":0.0014},
{"t":1841.0,"m":-0.0033},{"t":1841.0,"m":-0.0017},{"t":1841.0,"m":0},{"t":1841.0,"m":0.0014}
],
"lc4":[
{"t":1816.1,"m":0},{"t":1816.1,"m":0.0004},{"t":1816.1,"m":0.0008},
{"t":1816.25,"m":-0.0001},{"t":1816.25,"m":0.0003},{"t":1816.25,"m":0.0007},
{"t":1816.4,"m":0},{"t":1816.4,"m":0.0004},{"t":1816.4,"m":0.0008},
{"t":1816.55,"m":-0.0002},{"t":1816.55,"m":0.0002},{"t":1816.55,"m":0.0006},
{"t":1816.7,"m":-0.0005},{"t":1816.7,"m":-0.0001},{"t":1816.7,"m":0.0003},
{"t":1816.85,"m":-0.0005},{"t":1816.85,"m":-0.0001},{"t":1816.85,"m":0.0003},
{"t":1817.0,"m":-0.0008},{"t":1817.0,"m":-0.0004},{"t":1817.0,"m":0},
{"t":1817.15,"m":-0.001},{"t":1817.15,"m":-0.0006},{"t":1817.15,"m":-0.0002},
{"t":1817.3,"m":-0.0009},{"t":1817.3,"m":-0.0005},{"t":1817.3,"m":-0.0001},
{"t":1817.45,"m":-0.0007},{"t":1817.45,"m":-0.0003},{"t":1817.45,"m":0.0001},
{"t":1817.6,"m":-0.0005},{"t":1817.6,"m":-0.0001},{"t":1817.6,"m":0.0003},
{"t":1817.75,"m":0.0001},{"t":1817.75,"m":0.0005},{"t":1817.75,"m":0.0009},
{"t":1817.9,"m":0.0004},{"t":1817.9,"m":0.0008},{"t":1817.9,"m":0.0012},
{"t":1818.05,"m":0.0005},{"t":1818.05,"m":0.0009},{"t":1818.05,"m":0.0013},
{"t":1818.2,"m":0.0007},{"t":1818.2,"m":0.0011},{"t":1818.2,"m":0.0015},
{"t":1818.35,"m":0.0002},{"t":1818.35,"m":0.0006},{"t":1818.35,"m":0.001},
{"t":1818.5,"m":-0.0003},{"t":1818.5,"m":0.0001},{"t":1818.5,"m":0.0005},
{"t":1818.65,"m":-0.0005},{"t":1818.65,"m":-0.0001},{"t":1818.65,"m":0.0003},
{"t":1818.8,"m":-0.0011},{"t":1818.8,"m":-0.0007},{"t":1818.8,"m":-0.0003},
{"t":1818.95,"m":-0.0015},{"t":1818.95,"m":-0.0011},{"t":1818.95,"m":-0.0007},
{"t":1819.1,"m":-0.0015},{"t":1819.1,"m":-0.0011},{"t":1819.1,"m":-0.0007},
{"t":1819.25,"m":-0.0015},{"t":1819.25,"m":-0.0011},{"t":1819.25,"m":-0.0007},
{"t":1819.4,"m":-0.0015},{"t":1819.4,"m":-0.0011},{"t":1819.4,"m":-0.0007},
{"t":1819.55,"m":-0.0011},{"t":1819.55,"m":-0.0007},{"t":1819.55,"m":-0.0003},
{"t":1819.7,"m":-0.0009},{"t":1819.7,"m":-0.0005},{"t":1819.7,"m":-0.0001},
{"t":1819.85,"m":-0.0008},{"t":1819.85,"m":-0.0004},{"t":1819.85,"m":0},
{"t":1820.0,"m":-0.0004},{"t":1820.0,"m":0},{"t":1820.0,"m":0.0004},
{"t":1820.15,"m":-0.0005},{"t":1820.15,"m":-0.0001},{"t":1820.15,"m":0.0003},
{"t":1820.3,"m":-0.0006},{"t":1820.3,"m":-0.0002},{"t":1820.3,"m":0.0002},
{"t":1820.45,"m":-0.0002},{"t":1820.45,"m":0.0002},{"t":1820.45,"m":0.0006},
{"t":1820.6,"m":-0.0001},{"t":1820.6,"m":0.0003},{"t":1820.6,"m":0.0007},
{"t":1820.75,"m":0.0001},{"t":1820.75,"m":0.0005},{"t":1820.75,"m":0.0009},
{"t":1820.9,"m":0.0006},{"t":1820.9,"m":0.001},{"t":1820.9,"m":0.0014},
{"t":1821.05,"m":0.0008},{"t":1821.05,"m":0.0012},{"t":1821.05,"m":0.0016},
{"t":1821.2,"m":0.0009},{"t":1821.2,"m":0.0013},{"t":1821.2,"m":0.0017},
{"t":1821.35,"m":0.0013},{"t":1821.35,"m":0.0017},{"t":1821.35,"m":0.0021},
{"t":1821.5,"m":0.0014},{"t":1821.5,"m":0.0018},{"t":1821.5,"m":0.0022},
{"t":1821.65,"m":0.0008},{"t":1821.65,"m":0.0012},{"t":1821.65,"m":0.0016},
{"t":1821.8,"m":0.0005},{"t":1821.8,"m":0.0009},{"t":1821.8,"m":0.0013},
{"t":1821.95,"m":-0.0001},{"t":1821.95,"m":0.0003},{"t":1821.95,"m":0.0007},
{"t":1822.1,"m":-0.0008},{"t":1822.1,"m":-0.0004},{"t":1822.1,"m":0},
{"t":1822.25,"m":-0.0011},{"t":1822.25,"m":-0.0007},{"t":1822.25,"m":-0.0003},
{"t":1822.4,"m":-0.0017},{"t":1822.4,"m":-0.0013},{"t":1822.4,"m":-0.0009},
{"t":1822.55,"m":-0.0021},{"t":1822.55,"m":-0.0017},{"t":1822.55,"m":-0.0013},
{"t":1822.7,"m":-0.0021},{"t":1822.7,"m":-0.0017},{"t":1822.7,"m":-0.0013},
{"t":1822.85,"m":-0.0018},{"t":1822.85,"m":-0.0014},{"t":1822.85,"m":-0.001},
{"t":1823.0,"m":-0.0014},{"t":1823.0,"m":-0.001},{"t":1823.0,"m":-0.0006},
{"t":1823.15,"m":-0.0006},{"t":1823.15,"m":-0.0002},{"t":1823.15,"m":0.0002},
{"t":1823.3,"m":-0.0001},{"t":1823.3,"m":0.0003},{"t":1823.3,"m":0.0007},
{"t":1823.45,"m":0.0002},{"t":1823.45,"m":0.0006},{"t":1823.45,"m":0.001},
{"t":1823.6,"m":0.0008},{"t":1823.6,"m":0.0012},{"t":1823.6,"m":0.0016},
{"t":1823.75,"m":0.0009},{"t":1823.75,"m":0.0013},{"t":1823.75,"m":0.0017},
{"t":1823.9,"m":0.0009},{"t":1823.9,"m":0.0013},{"t":1823.9,"m":0.0017},
{"t":1824.05,"m":0.0008},{"t":1824.05,"m":0.0012},{"t":1824.05,"m":0.0016},
{"t":1824.2,"m":0.0003},{"t":1824.2,"m":0.0007},{"t":1824.2,"m":0.0011},
{"t":1824.35,"m":-0.0001},{"t":1824.35,"m":0.0003},{"t":1824.35,"m":0.0007},
{"t":1824.5,"m":-0.0001},{"t":1824.5,"m":0.0003},{"t":1824.5,"m":0.0007},
{"t":1824.65,"m":-0.0003},{"t":1824.65,"m":0.0001},{"t":1824.65,"m":0.0005},
{"t":1824.8,"m":-0.0004},{"t":1824.8,"m":0},{"t":1824.8,"m":0.0004},
{"t":1824.95,"m":-0.0002},{"t":1824.95,"m":0.0002},{"t":1824.95,"m":0.0006},
{"t":1825.1,"m":-0.0003},{"t":1825.1,"m":0.0001},{"t":1825.1,"m":0.0005},
{"t":1825.25,"m":-0.0006},{"t":1825.25,"m":-0.0002},{"t":1825.25,"m":0.0002},
{"t":1825.4,"m":-0.0007},{"t":1825.4,"m":-0.0003},{"t":1825.4,"m":0.0001},
{"t":1825.55,"m":-0.0011},{"t":1825.55,"m":-0.0007},{"t":1825.55,"m":-0.0003},
{"t":1825.7,"m":-0.0015},{"t":1825.7,"m":-0.0011},{"t":1825.7,"m":-0.0007},
{"t":1825.85,"m":-0.0015},{"t":1825.85,"m":-0.0011},{"t":1825.85,"m":-0.0007},
{"t":1826.0,"m":-0.0017},{"t":1826.0,"m":-0.0013},{"t":1826.0,"m":-0.0009},
{"t":1826.15,"m":-0.0017},{"t":1826.15,"m":-0.0013},{"t":1826.15,"m":-0.0009},
{"t":1826.3,"m":-0.0013},{"t":1826.3,"m":-0.0009},{"t":1826.3,"m":-0.0005},
{"t":1826.45,"m":-0.0011},{"t":1826.45,"m":-0.0007},{"t":1826.45,"m":-0.0003},
{"t":1826.6,"m":-0.0009},{"t":1826.6,"m":-0.0005},{"t":1826.6,"m":-0.0001},
{"t":1826.75,"m":-0.0003},{"t":1826.75,"m":0.0001},{"t":1826.75,"m":0.0005},
{"t":1826.9,"m":0},{"t":1826.9,"m":0.0004},{"t":1826.9,"m":0.0008},
{"t":1827.05,"m":0.0002},{"t":1827.05,"m":0.0006},{"t":1827.05,"m":0.001},
{"t":1827.2,"m":0.0006},{"t":1827.2,"m":0.001},{"t":1827.2,"m":0.0014},
{"t":1827.35,"m":0.0004},{"t":1827.35,"m":0.0008},{"t":1827.35,"m":0.0012},
{"t":1827.5,"m":0.0002},{"t":1827.5,"m":0.0006},{"t":1827.5,"m":0.001},
{"t":1827.6,"m":0.0003},{"t":1827.6,"m":0.0007},{"t":1827.6,"m":0.0011},
{"t":1828.9,"m":-0.0011},{"t":1828.9,"m":-0.0007},{"t":1828.9,"m":-0.0003},
{"t":1829.05,"m":-0.0013},{"t":1829.05,"m":-0.0009},{"t":1829.05,"m":-0.0005},
{"t":1829.2,"m":-0.0012},{"t":1829.2,"m":-0.0008},{"t":1829.2,"m":-0.0004},
{"t":1829.35,"m":-0.0012},{"t":1829.35,"m":-0.0008},{"t":1829.35,"m":-0.0004},
{"t":1829.5,"m":-0.0012},{"t":1829.5,"m":-0.0008},{"t":1829.5,"m":-0.0004},
{"t":1829.65,"m":-0.0009},{"t":1829.65,"m":-0.0005},{"t":1829.65,"m":-0.0001},
{"t":1829.8,"m":-0.0008},{"t":1829.8,"m":-0.0004},{"t":1829.8,"m":0},
{"t":1829.95,"m":-0.0006},{"t":1829.95,"m":-0.0002},{"t":1829.95,"m":0.0002},
{"t":1830.1,"m":-0.0002},{"t":1830.1,"m":0.0002},{"t":1830.1,"m":0.0006},
{"t":1830.25,"m":-0.0001},{"t":1830.25,"m":0.0003},{"t":1830.25,"m":0.0007},
{"t":1830.4,"m":-0.0001},{"t":1830.4,"m":0.0003},{"t":1830.4,"m":0.0007},
{"t":1830.55,"m":0.0003},{"t":1830.55,"m":0.0007},{"t":1830.55,"m":0.0011},
{"t":1830.7,"m":0.0005},{"t":1830.7,"m":0.0009},{"t":1830.7,"m":0.0013},
{"t":1830.85,"m":0.0007},{"t":1830.85,"m":0.0011},{"t":1830.85,"m":0.0015},
{"t":1831.0,"m":0.0011},{"t":1831.0,"m":0.0015},{"t":1831.0,"m":0.0019},
{"t":1831.15,"m":0.0007},{"t":1831.15,"m":0.0011},{"t":1831.15,"m":0.0015},
{"t":1831.3,"m":0.0002},{"t":1831.3,"m":0.0006},{"t":1831.3,"m":0.001},
{"t":1831.45,"m":-0.0002},{"t":1831.45,"m":0.0002},{"t":1831.45,"m":0.0006},
{"t":1831.6,"m":-0.0009},{"t":1831.6,"m":-0.0005},{"t":1831.6,"m":-0.0001},
{"t":1831.75,"m":-0.0014},{"t":1831.75,"m":-0.001},{"t":1831.75,"m":-0.0006},
{"t":1831.9,"m":-0.0016},{"t":1831.9,"m":-0.0012},{"t":1831.9,"m":-0.0008},
{"t":1832.05,"m":-0.0015},{"t":1832.05,"m":-0.0011},{"t":1832.05,"m":-0.0007},
{"t":1832.2,"m":-0.0014},{"t":1832.2,"m":-0.001},{"t":1832.2,"m":-0.0006},
{"t":1832.35,"m":-0.001},{"t":1832.35,"m":-0.0006},{"t":1832.35,"m":-0.0002},
{"t":1832.5,"m":-0.0009},{"t":1832.5,"m":-0.0005},{"t":1832.5,"m":-0.0001},
{"t":1832.65,"m":-0.0009},{"t":1832.65,"m":-0.0005},{"t":1832.65,"m":-0.0001},
{"t":1832.8,"m":-0.0006},{"t":1832.8,"m":-0.0002},{"t":1832.8,"m":0.0002},
{"t":1832.95,"m":-0.0006},{"t":1832.95,"m":-0.0002},{"t":1832.95,"m":0.0002},
{"t":1833.1,"m":-0.0006},{"t":1833.1,"m":-0.0002},{"t":1833.1,"m":0.0002},
{"t":1833.25,"m":-0.0003},{"t":1833.25,"m":0.0001},{"t":1833.25,"m":0.0005},
{"t":1833.4,"m":-0.0002},{"t":1833.4,"m":0.0002},{"t":1833.4,"m":0.0006},
{"t":1833.55,"m":-0.0002},{"t":1833.55,"m":0.0002},{"t":1833.55,"m":0.0006},
{"t":1833.7,"m":0.0001},{"t":1833.7,"m":0.0005},{"t":1833.7,"m":0.0009},
{"t":1833.85,"m":0.0001},{"t":1833.85,"m":0.0005},{"t":1833.85,"m":0.0009},
{"t":1834.0,"m":0.0001},{"t":1834.0,"m":0.0005},{"t":1834.0,"m":0.0009},
{"t":1834.15,"m":0.0004},{"t":1834.15,"m":0.0008},{"t":1834.15,"m":0.0012},
{"t":1834.3,"m":0.0005},{"t":1834.3,"m":0.0009},{"t":1834.3,"m":0.0013},
{"t":1834.45,"m":0.0001},{"t":1834.45,"m":0.0005},{"t":1834.45,"m":0.0009},
{"t":1834.6,"m":0},{"t":1834.6,"m":0.0004},{"t":1834.6,"m":0.0008},
{"t":1834.75,"m":-0.0004},{"t":1834.75,"m":0},{"t":1834.75,"m":0.0004},
{"t":1834.9,"m":-0.0008},{"t":1834.9,"m":-0.0004},{"t":1834.9,"m":0},
{"t":1835.05,"m":-0.0008},{"t":1835.05,"m":-0.0004},{"t":1835.05,"m":0},
{"t":1835.2,"m":-0.0012},{"t":1835.2,"m":-0.0008},{"t":1835.2,"m":-0.0004},
{"t":1835.35,"m":-0.0015},{"t":1835.35,"m":-0.0011},{"t":1835.35,"m":-0.0007},
{"t":1835.5,"m":-0.0015},{"t":1835.5,"m":-0.0011},{"t":1835.5,"m":-0.0007},
{"t":1835.65,"m":-0.0018},{"t":1835.65,"m":-0.0014},{"t":1835.65,"m":-0.001},
{"t":1835.8,"m":-0.0022},{"t":1835.8,"m":-0.0018},{"t":1835.8,"m":-0.0014},
{"t":1835.95,"m":-0.0017},{"t":1835.95,"m":-0.0013},{"t":1835.95,"m":-0.0009},
{"t":1836.1,"m":-0.0014},{"t":1836.1,"m":-0.001},{"t":1836.1,"m":-0.0006},
{"t":1836.25,"m":-0.001},{"t":1836.25,"m":-0.0006},{"t":1836.25,"m":-0.0002},
{"t":1836.4,"m":-0.0002},{"t":1836.4,"m":0.0002},{"t":1836.4,"m":0.0006},
{"t":1836.55,"m":0.0001},{"t":1836.55,"m":0.0005},{"t":1836.55,"m":0.0009},
{"t":1836.7,"m":0.0004},{"t":1836.7,"m":0.0008},{"t":1836.7,"m":0.0012},
{"t":1836.85,"m":0.0005},{"t":1836.85,"m":0.0009},{"t":1836.85,"m":0.0013},
{"t":1837.0,"m":0.0002},{"t":1837.0,"m":0.0006},{"t":1837.0,"m":0.001},
{"t":1837.15,"m":-0.0002},{"t":1837.15,"m":0.0002},{"t":1837.15,"m":0.0006},
{"t":1837.3,"m":-0.0003},{"t":1837.3,"m":0.0001},{"t":1837.3,"m":0.0005},
{"t":1837.45,"m":-0.0006},{"t":1837.45,"m":-0.0002},{"t":1837.45,"m":0.0002},
{"t":1837.6,"m":-0.0009},{"t":1837.6,"m":-0.0005},{"t":1837.6,"m":-0.0001},
{"t":1837.75,"m":-0.0008},{"t":1837.75,"m":-0.0004},{"t":1837.75,"m":0},
{"t":1837.9,"m":-0.001},{"t":1837.9,"m":-0.0006},{"t":1837.9,"m":-0.0002},
{"t":1838.05,"m":-0.0012},{"t":1838.05,"m":-0.0008},{"t":1838.05,"m":-0.0004},
{"t":1838.2,"m":-0.0011},{"t":1838.2,"m":-0.0007},{"t":1838.2,"m":-0.0003},
{"t":1838.35,"m":-0.0013},{"t":1838.35,"m":-0.0009},{"t":1838.35,"m":-0.0005},
{"t":1838.5,"m":-0.0015},{"t":1838.5,"m":-0.0011},{"t":1838.5,"m":-0.0007},
{"t":1838.65,"m":-0.0015},{"t":1838.65,"m":-0.0011},{"t":1838.65,"m":-0.0007},
{"t":1838.8,"m":-0.0018},{"t":1838.8,"m":-0.0014},{"t":1838.8,"m":-0.001},
{"t":1838.95,"m":-0.0021},{"t":1838.95,"m":-0.0017},{"t":1838.95,"m":-0.0013},
{"t":1839.1,"m":-0.0021},{"t":1839.1,"m":-0.0017},{"t":1839.1,"m":-0.0013},
{"t":1839.25,"m":-0.0018},{"t":1839.25,"m":-0.0014},{"t":1839.25,"m":-0.001},
{"t":1839.4,"m":-0.0015},{"t":1839.4,"m":-0.0011},{"t":1839.4,"m":-0.0007},
{"t":1839.55,"m":-0.0007},{"t":1839.55,"m":-0.0003},{"t":1839.55,"m":0.0001},
{"t":1839.7,"m":-0.0002},{"t":1839.7,"m":0.0002},{"t":1839.7,"m":0.0006},
{"t":1839.85,"m":0.0002},{"t":1839.85,"m":0.0006},{"t":1839.85,"m":0.001},
{"t":1840.0,"m":0.0009},{"t":1840.0,"m":0.0013},{"t":1840.0,"m":0.0017},
{"t":1840.15,"m":0.0011},{"t":1840.15,"m":0.0015},{"t":1840.15,"m":0.0019},
{"t":1840.3,"m":0.0013},{"t":1840.3,"m":0.0017},{"t":1840.3,"m":0.0021},
{"t":1840.45,"m":0.0014},{"t":1840.45,"m":0.0018},{"t":1840.45,"m":0.0022},
{"t":1840.6,"m":0.0011},{"t":1840.6,"m":0.0015},{"t":1840.6,"m":0.0019},
{"t":1840.75,"m":0.0006},{"t":1840.75,"m":0.001},{"t":1840.75,"m":0.0014},
{"t":1840.9,"m":0.0004},{"t":1840.9,"m":0.0008},{"t":1840.9,"m":0.0012},
{"t":1841.05,"m":0.0001},{"t":1841.05,"m":0.0005},{"t":1841.05,"m":0.0009},
{"t":1841.15,"m":-0.0002},{"t":1841.15,"m":0.0002},{"t":1841.15,"m":0.0006},
{"t":1818.15,"m":0.0026},{"t":1817.95,"m":0.0019},{"t":1821.45,"m":0.0024},{"t":1822.65,"m":-0.0025},{"t":1823.85,"m":0.002},{"t":1826.05,"m":-0.0019},{"t":1827.25,"m":0.0017},{"t":1828.95,"m":0.0003},{"t":1829.55,"m":-0.0016},{"t":1831.1,"m":0.0023},{"t":1831.95,"m":-0.0022},{"t":1835.85,"m":-0.0025},{"t":1839.05,"m":-0.0025},{"t":1840.4,"m":0.0027},{"t":1840.7,"m":0.0032},{"t":1841.15,"m":-0.0004},{"t":1820.1,"m":-0.0011},{"t":1824.8,"m":0.0011},{"t":1817.3,"m":-0.0011}
],
"sp1":[
{"f":0,"a":0.4},{"f":0.03,"a":0.15},{"f":0.06,"a":0.35},{"f":0.09,"a":0.05},{"f":0.12,"a":0.3},{"f":0.15,"a":0.22},{"f":0.18,"a":0.38},{"f":0.21,"a":0.1},{"f":0.24,"a":0.25},{"f":0.27,"a":0.12},{"f":0.3,"a":0.93},{"f":0.33,"a":0.3},{"f":0.36,"a":0.08},{"f":0.39,"a":0.2},{"f":0.42,"a":0.05},{"f":0.45,"a":0.28},{"f":0.48,"a":0.15},{"f":0.51,"a":0.3},{"f":0.54,"a":0.18},{"f":0.57,"a":0.38},{"f":0.6,"a":0.22},{"f":0.63,"a":0.45},{"f":0.66,"a":0.3},{"f":0.69,"a":0.57},{"f":0.72,"a":0.45},{"f":0.75,"a":0.55},{"f":0.77,"a":2.63},{"f":0.79,"a":0.6},{"f":0.82,"a":0.5},{"f":0.85,"a":0.65},{"f":0.88,"a":0.35},{"f":0.91,"a":0.48},{"f":0.94,"a":0.25},{"f":0.97,"a":0.38},{"f":1.0,"a":0.2},{"f":1.03,"a":0.35},{"f":1.06,"a":0.28},{"f":1.09,"a":0.4},{"f":1.12,"a":0.22},{"f":1.15,"a":0.33},{"f":1.18,"a":0.25},{"f":1.21,"a":0.38},{"f":1.24,"a":0.3},{"f":1.27,"a":0.45},{"f":1.3,"a":0.73},{"f":1.33,"a":0.35},{"f":1.36,"a":0.55},{"f":1.39,"a":0.3},{"f":1.42,"a":0.62},{"f":1.45,"a":0.4},{"f":1.48,"a":0.8},{"f":1.51,"a":0.45},{"f":1.54,"a":2.43},{"f":1.57,"a":0.55},{"f":1.6,"a":0.78},{"f":1.63,"a":0.4},{"f":1.66,"a":0.3},{"f":1.69,"a":0.45},{"f":1.72,"a":0.25},{"f":1.75,"a":0.87},{"f":1.78,"a":0.35},{"f":1.81,"a":0.3},{"f":1.84,"a":0.18},{"f":1.87,"a":0.25},{"f":1.9,"a":0.12},{"f":1.93,"a":0.2},{"f":1.96,"a":0.1},{"f":2.0,"a":0.14},{"f":2.05,"a":0.06},{"f":2.1,"a":0.1},{"f":2.15,"a":0.07},{"f":2.2,"a":0.11},{"f":2.25,"a":0.06},{"f":2.3,"a":0.09},{"f":2.35,"a":0.05},{"f":2.4,"a":0.1},{"f":2.45,"a":0.07},{"f":2.5,"a":0.09},{"f":2.55,"a":0.05},{"f":2.6,"a":0.08},{"f":2.65,"a":0.06},{"f":2.7,"a":0.1},{"f":2.75,"a":0.05},{"f":2.8,"a":0.09},{"f":2.85,"a":0.06},{"f":2.9,"a":0.08},{"f":2.95,"a":0.12},{"f":3.0,"a":0.06},{"f":3.05,"a":0.1},{"f":3.1,"a":0.05},{"f":3.15,"a":0.08},{"f":3.2,"a":0.06},{"f":3.3,"a":0.07},{"f":3.4,"a":0.04},{"f":3.5,"a":0.06},{"f":3.6,"a":0.03},{"f":3.7,"a":0.05},{"f":3.8,"a":0.04},{"f":3.9,"a":0.06},{"f":4.0,"a":0.03},{"f":4.1,"a":0.05},{"f":4.2,"a":0.02},{"f":4.3,"a":0.06},{"f":4.4,"a":0.03},{"f":4.5,"a":0.05},{"f":4.6,"a":0.04},{"f":4.7,"a":0.06},{"f":4.8,"a":0.03},{"f":4.9,"a":0.05},{"f":5.0,"a":0.02},{"f":5.1,"a":0.05},{"f":5.2,"a":0.04},{"f":5.3,"a":0.06},{"f":5.4,"a":0.03},{"f":5.5,"a":0.05},{"f":5.6,"a":0.02},{"f":5.7,"a":0.04},{"f":5.8,"a":0.06},{"f":5.9,"a":0.03},{"f":6.0,"a":0.05},{"f":6.1,"a":0.02},{"f":6.2,"a":0.04},{"f":6.3,"a":0.05},{"f":6.4,"a":0.03},{"f":6.5,"a":0.06},{"f":6.6,"a":0.02},{"f":6.7,"a":0.04},{"f":6.8,"a":0.03},{"f":6.9,"a":0.05},{"f":7.0,"a":0.02},{"f":7.1,"a":0.04},{"f":7.2,"a":0.06},{"f":7.3,"a":0.03},{"f":7.4,"a":0.05},{"f":7.5,"a":0.02},{"f":7.6,"a":0.04},{"f":7.7,"a":0.03},{"f":7.8,"a":0.05},{"f":7.9,"a":0.02},{"f":8.0,"a":0.04},{"f":8.1,"a":0.03},{"f":8.2,"a":0.05},{"f":8.3,"a":0.02},{"f":8.4,"a":0.04},{"f":8.5,"a":0.06},{"f":8.6,"a":0.03},{"f":8.7,"a":0.04},{"f":8.8,"a":0.02},{"f":8.9,"a":0.05},{"f":9.0,"a":0.03},{"f":9.1,"a":0.04},{"f":9.2,"a":0.07},{"f":9.3,"a":0.03},{"f":9.4,"a":0.05},{"f":9.5,"a":0.02},{"f":9.6,"a":0.04},{"f":9.7,"a":0.03},{"f":9.8,"a":0.05},{"f":9.9,"a":0.02},{"f":10.0,"a":0.04}
],
"sp2":[
{"f":0,"a":0.48},{"f":0.03,"a":0.3},{"f":0.06,"a":0.47},{"f":0.09,"a":0.2},{"f":0.12,"a":0.45},{"f":0.15,"a":0.25},{"f":0.18,"a":0.38},{"f":0.21,"a":0.15},{"f":0.24,"a":0.35},{"f":0.27,"a":0.1},{"f":0.3,"a":0.3},{"f":0.33,"a":0.18},{"f":0.36,"a":0.28},{"f":0.39,"a":0.08},{"f":0.42,"a":0.25},{"f":0.45,"a":0.12},{"f":0.48,"a":0.22},{"f":0.51,"a":0.06},{"f":0.54,"a":0.2},{"f":0.57,"a":0.1},{"f":0.6,"a":0.18},{"f":0.65,"a":0.05},{"f":0.7,"a":0.15},{"f":0.75,"a":0.08},{"f":0.8,"a":0.14},{"f":0.85,"a":0.04},{"f":0.9,"a":0.12},{"f":0.95,"a":0.06},{"f":1.0,"a":0.13},{"f":1.05,"a":0.05},{"f":1.1,"a":0.11},{"f":1.15,"a":0.04},{"f":1.2,"a":0.12},{"f":1.25,"a":0.06},{"f":1.3,"a":0.1},{"f":1.35,"a":0.03},{"f":1.4,"a":0.11},{"f":1.45,"a":0.05},{"f":1.5,"a":0.12},{"f":1.55,"a":0.07},{"f":1.6,"a":0.1},{"f":1.65,"a":0.04},{"f":1.7,"a":0.09},{"f":1.75,"a":0.12},{"f":1.8,"a":0.2},{"f":1.83,"a":0.3},{"f":1.86,"a":0.15},{"f":1.9,"a":0.18},{"f":1.95,"a":0.08},{"f":2.0,"a":0.12},{"f":2.05,"a":0.05},{"f":2.1,"a":0.1},{"f":2.15,"a":0.06},{"f":2.2,"a":0.12},{"f":2.25,"a":0.04},{"f":2.3,"a":0.1},{"f":2.35,"a":0.07},{"f":2.4,"a":0.13},{"f":2.45,"a":0.05},{"f":2.5,"a":0.11},{"f":2.55,"a":0.06},{"f":2.6,"a":0.12},{"f":2.65,"a":0.04},{"f":2.7,"a":0.1},{"f":2.75,"a":0.07},{"f":2.8,"a":0.13},{"f":2.85,"a":0.05},{"f":2.9,"a":0.18},{"f":2.95,"a":0.08},{"f":3.0,"a":0.2},{"f":3.05,"a":0.06},{"f":3.1,"a":0.14},{"f":3.15,"a":0.08},{"f":3.2,"a":0.16},{"f":3.25,"a":0.05},{"f":3.3,"a":0.13},{"f":3.35,"a":0.09},{"f":3.4,"a":0.16},{"f":3.45,"a":0.07},{"f":3.5,"a":0.18},{"f":3.55,"a":0.1},{"f":3.6,"a":0.35},{"f":3.63,"a":0.2},{"f":3.66,"a":0.4},{"f":3.7,"a":0.25},{"f":3.74,"a":0.45},{"f":3.78,"a":0.3},{"f":3.82,"a":0.6},{"f":3.86,"a":1.0},{"f":3.9,"a":2.43},{"f":3.93,"a":1.2},{"f":3.95,"a":1.6},{"f":3.98,"a":0.8},{"f":4.01,"a":0.45},{"f":4.04,"a":0.6},{"f":4.07,"a":1.08},{"f":4.1,"a":0.5},{"f":4.13,"a":0.35},{"f":4.16,"a":0.4},{"f":4.2,"a":0.25},{"f":4.25,"a":0.3},{"f":4.3,"a":0.18},{"f":4.35,"a":0.22},{"f":4.4,"a":0.12},{"f":4.45,"a":0.15},{"f":4.5,"a":0.08},{"f":4.55,"a":0.11},{"f":4.6,"a":0.05},{"f":4.7,"a":0.1},{"f":4.8,"a":0.06},{"f":4.9,"a":0.12},{"f":5.0,"a":0.05},{"f":5.1,"a":0.09},{"f":5.2,"a":0.04},{"f":5.3,"a":0.08},{"f":5.4,"a":0.05},{"f":5.5,"a":0.09},{"f":5.6,"a":0.03},{"f":5.7,"a":0.07},{"f":5.8,"a":0.04},{"f":5.9,"a":0.08},{"f":6.0,"a":0.03},{"f":6.1,"a":0.06},{"f":6.2,"a":0.04},{"f":6.3,"a":0.07},{"f":6.4,"a":0.03},{"f":6.5,"a":0.06},{"f":6.6,"a":0.04},{"f":6.7,"a":0.08},{"f":6.8,"a":0.03},{"f":6.9,"a":0.06},{"f":7.0,"a":0.05},{"f":7.1,"a":0.08},{"f":7.2,"a":0.04},{"f":7.3,"a":0.07},{"f":7.4,"a":0.12},{"f":7.45,"a":0.08},{"f":7.5,"a":0.18},{"f":7.55,"a":0.12},{"f":7.6,"a":0.2},{"f":7.65,"a":0.1},{"f":7.7,"a":0.22},{"f":7.75,"a":0.3},{"f":7.8,"a":0.92},{"f":7.83,"a":0.4},{"f":7.86,"a":0.35},{"f":7.9,"a":0.38},{"f":7.95,"a":0.2},{"f":8.0,"a":0.25},{"f":8.05,"a":0.1},{"f":8.1,"a":0.12},{"f":8.2,"a":0.05},{"f":8.3,"a":0.08},{"f":8.4,"a":0.03},{"f":8.5,"a":0.06},{"f":8.6,"a":0.04},{"f":8.7,"a":0.07},{"f":8.8,"a":0.03},{"f":8.9,"a":0.06},{"f":9.0,"a":0.02},{"f":9.1,"a":0.05},{"f":9.2,"a":0.07},{"f":9.3,"a":0.03},{"f":9.4,"a":0.05},{"f":9.5,"a":0.02},{"f":9.6,"a":0.06},{"f":9.7,"a":0.03},{"f":9.8,"a":0.07},{"f":9.9,"a":0.02},{"f":10.0,"a":0.05}
],
"sp3":[
{"f":0,"a":0.1},{"f":0.05,"a":0.15},{"f":0.1,"a":0.28},{"f":0.15,"a":0.18},{"f":0.2,"a":0.12},{"f":0.25,"a":0.08},{"f":0.3,"a":0.14},{"f":0.35,"a":0.06},{"f":0.4,"a":0.2},{"f":0.45,"a":0.12},{"f":0.5,"a":0.24},{"f":0.55,"a":0.15},{"f":0.6,"a":0.22},{"f":0.65,"a":0.1},{"f":0.7,"a":0.18},{"f":0.75,"a":0.08},{"f":0.8,"a":0.14},{"f":0.85,"a":0.06},{"f":0.9,"a":0.12},{"f":0.95,"a":0.05},{"f":1.0,"a":0.1},{"f":1.05,"a":0.07},{"f":1.1,"a":0.11},{"f":1.15,"a":0.05},{"f":1.2,"a":0.09},{"f":1.25,"a":0.06},{"f":1.3,"a":0.12},{"f":1.35,"a":0.07},{"f":1.4,"a":0.1},{"f":1.45,"a":0.05},{"f":1.5,"a":0.11},{"f":1.55,"a":0.08},{"f":1.6,"a":0.12},{"f":1.65,"a":0.06},{"f":1.7,"a":0.1},{"f":1.75,"a":0.07},{"f":1.8,"a":0.13},{"f":1.85,"a":0.06},{"f":1.9,"a":0.1},{"f":1.95,"a":0.15},{"f":2.0,"a":0.08},{"f":2.05,"a":0.18},{"f":2.1,"a":0.14},{"f":2.15,"a":0.25},{"f":2.2,"a":0.2},{"f":2.25,"a":0.32},{"f":2.3,"a":0.28},{"f":2.35,"a":0.4},{"f":2.4,"a":0.3},{"f":2.45,"a":0.5},{"f":2.48,"a":0.25},{"f":2.51,"a":1.1},{"f":2.54,"a":0.4},{"f":2.57,"a":0.6},{"f":2.6,"a":1.2},{"f":2.64,"a":4.3},{"f":2.67,"a":0.9},{"f":2.7,"a":1.4},{"f":2.72,"a":0.5},{"f":2.75,"a":1.85},{"f":2.78,"a":0.3},{"f":2.81,"a":0.6},{"f":2.84,"a":0.2},{"f":2.87,"a":0.45},{"f":2.9,"a":0.3},{"f":2.95,"a":0.38},{"f":3.0,"a":0.28},{"f":3.05,"a":0.36},{"f":3.1,"a":0.25},{"f":3.15,"a":0.3},{"f":3.2,"a":0.18},{"f":3.25,"a":0.2},{"f":3.3,"a":0.12},{"f":3.35,"a":0.15},{"f":3.4,"a":0.08},{"f":3.5,"a":0.12},{"f":3.6,"a":0.07},{"f":3.7,"a":0.1},{"f":3.8,"a":0.12},{"f":3.9,"a":0.16},{"f":4.0,"a":0.08},{"f":4.1,"a":0.12},{"f":4.2,"a":0.06},{"f":4.3,"a":0.1},{"f":4.4,"a":0.14},{"f":4.5,"a":0.1},{"f":4.55,"a":0.38},{"f":4.6,"a":0.15},{"f":4.7,"a":0.2},{"f":4.8,"a":0.1},{"f":4.9,"a":0.18},{"f":5.0,"a":0.09},{"f":5.1,"a":0.16},{"f":5.2,"a":0.08},{"f":5.3,"a":0.14},{"f":5.4,"a":0.07},{"f":5.5,"a":0.15},{"f":5.6,"a":0.06},{"f":5.7,"a":0.12},{"f":5.8,"a":0.07},{"f":5.9,"a":0.1},{"f":6.0,"a":0.05},{"f":6.1,"a":0.08},{"f":6.2,"a":0.04},{"f":6.3,"a":0.07},{"f":6.4,"a":0.03},{"f":6.5,"a":0.06},{"f":6.6,"a":0.04},{"f":6.7,"a":0.07},{"f":6.8,"a":0.03},{"f":6.9,"a":0.05},{"f":7.0,"a":0.04},{"f":7.1,"a":0.06},{"f":7.2,"a":0.03},{"f":7.3,"a":0.05},{"f":7.4,"a":0.02},{"f":7.5,"a":0.06},{"f":7.6,"a":0.03},{"f":7.7,"a":0.05},{"f":7.8,"a":0.02},{"f":7.9,"a":0.04},{"f":8.0,"a":0.03},{"f":8.1,"a":0.05},{"f":8.2,"a":0.02},{"f":8.3,"a":0.04},{"f":8.4,"a":0.03},{"f":8.5,"a":0.05},{"f":8.6,"a":0.02},{"f":8.7,"a":0.04},{"f":8.8,"a":0.03},{"f":8.9,"a":0.05},{"f":9.0,"a":0.02},{"f":9.1,"a":0.04},{"f":9.2,"a":0.03},{"f":9.3,"a":0.06},{"f":9.4,"a":0.04},{"f":9.5,"a":0.08},{"f":9.6,"a":0.05},{"f":9.7,"a":0.09},{"f":9.8,"a":0.04},{"f":9.9,"a":0.07},{"f":10.0,"a":0.05}
],
"sp4":[
{"f":0,"a":0.1},{"f":0.03,"a":0.15},{"f":0.06,"a":0.08},{"f":0.09,"a":0.14},{"f":0.12,"a":0.1},{"f":0.15,"a":0.22},{"f":0.18,"a":0.12},{"f":0.21,"a":0.25},{"f":0.24,"a":0.2},{"f":0.27,"a":0.15},{"f":0.3,"a":0.92},{"f":0.33,"a":0.25},{"f":0.36,"a":0.4},{"f":0.39,"a":0.15},{"f":0.42,"a":0.3},{"f":0.45,"a":0.12},{"f":0.48,"a":0.22},{"f":0.51,"a":0.1},{"f":0.54,"a":0.7},{"f":0.57,"a":0.2},{"f":0.6,"a":0.35},{"f":0.63,"a":0.12},{"f":0.66,"a":0.14},{"f":0.69,"a":0.05},{"f":0.72,"a":0.12},{"f":0.75,"a":0.04},{"f":0.8,"a":0.08},{"f":0.85,"a":0.03},{"f":0.9,"a":0.06},{"f":0.95,"a":0.02},{"f":1.0,"a":0.05},{"f":1.05,"a":0.03},{"f":1.1,"a":0.07},{"f":1.15,"a":0.02},{"f":1.2,"a":0.06},{"f":1.25,"a":0.04},{"f":1.3,"a":0.08},{"f":1.35,"a":0.03},{"f":1.4,"a":0.06},{"f":1.45,"a":0.02},{"f":1.5,"a":0.07},{"f":1.55,"a":0.04},{"f":1.6,"a":0.06},{"f":1.65,"a":0.02},{"f":1.7,"a":0.08},{"f":1.75,"a":0.04},{"f":1.8,"a":0.06},{"f":1.85,"a":0.03},{"f":1.9,"a":0.07},{"f":1.95,"a":0.02},{"f":2.0,"a":0.05},{"f":2.05,"a":0.03},{"f":2.1,"a":0.08},{"f":2.15,"a":0.04},{"f":2.2,"a":0.06},{"f":2.25,"a":0.02},{"f":2.3,"a":0.07},{"f":2.35,"a":0.03},{"f":2.4,"a":0.05},{"f":2.45,"a":0.02},{"f":2.5,"a":0.06},{"f":2.55,"a":0.04},{"f":2.6,"a":0.08},{"f":2.65,"a":0.03},{"f":2.7,"a":0.06},{"f":2.75,"a":0.02},{"f":2.8,"a":0.07},{"f":2.85,"a":0.04},{"f":2.9,"a":0.08},{"f":2.95,"a":0.03},{"f":3.0,"a":0.05},{"f":3.1,"a":0.03},{"f":3.2,"a":0.06},{"f":3.3,"a":0.02},{"f":3.4,"a":0.05},{"f":3.5,"a":0.03},{"f":3.6,"a":0.06},{"f":3.7,"a":0.02},{"f":3.8,"a":0.04},{"f":3.9,"a":0.03},{"f":4.0,"a":0.05},{"f":4.1,"a":0.02},{"f":4.2,"a":0.05},{"f":4.3,"a":0.07},{"f":4.4,"a":0.03},{"f":4.5,"a":0.06},{"f":4.6,"a":0.02},{"f":4.7,"a":0.05},{"f":4.8,"a":0.04},{"f":4.9,"a":0.06},{"f":5.0,"a":0.03},{"f":5.1,"a":0.05},{"f":5.2,"a":0.02},{"f":5.3,"a":0.04},{"f":5.4,"a":0.06},{"f":5.5,"a":0.03},{"f":5.6,"a":0.05},{"f":5.7,"a":0.02},{"f":5.8,"a":0.04},{"f":5.9,"a":0.03},{"f":6.0,"a":0.05},{"f":6.1,"a":0.02},{"f":6.2,"a":0.04},{"f":6.3,"a":0.06},{"f":6.4,"a":0.03},{"f":6.5,"a":0.05},{"f":6.6,"a":0.02},{"f":6.7,"a":0.04},{"f":6.8,"a":0.03},{"f":6.9,"a":0.05},{"f":7.0,"a":0.02},{"f":7.1,"a":0.04},{"f":7.2,"a":0.06},{"f":7.3,"a":0.03},{"f":7.4,"a":0.05},{"f":7.5,"a":0.02},{"f":7.6,"a":0.04},{"f":7.7,"a":0.03},{"f":7.8,"a":0.05},{"f":7.9,"a":0.02},{"f":8.0,"a":0.04},{"f":8.1,"a":0.06},{"f":8.2,"a":0.03},{"f":8.3,"a":0.05},{"f":8.4,"a":0.02},{"f":8.5,"a":0.04},{"f":8.6,"a":0.03},{"f":8.7,"a":0.05},{"f":8.8,"a":0.02},{"f":8.9,"a":0.04},{"f":9.0,"a":0.06},{"f":9.1,"a":0.03},{"f":9.2,"a":0.05},{"f":9.3,"a":0.02},{"f":9.4,"a":0.04},{"f":9.5,"a":0.03},{"f":9.6,"a":0.05},{"f":9.7,"a":0.02},{"f":9.8,"a":0.04},{"f":9.9,"a":0.03},{"f":10.0,"a":0.05}
],
"thr":[{"f":3}]
},
"columns":4,
"bounds":"flush",
"spacing":{"row":46,"column":76},
"concat":[
{"width":220,"height":169,
"resolve":{"scale":{"x":"independent","y":"independent"},"axis":{"x":"independent","y":"independent"}},
"layer":[
{"data":{"name":"lc1"},"mark":{"type":"circle","size":28,"color":"black","opacity":1},
"encoding":{
"x":{"field":"t","type":"quantitative","scale":{"domain":[1812.2,1845.4],"nice":false,"zero":false},"axis":{"title":"TJD","titleFontSize":18,"titlePadding":0,"labelPadding":1,"labelOverlap":false,"labelFontSize":10,"format":"d","values":[1812.5,1815,1817.5,1820,1822.5,1825,1827.5,1830,1832.5,1835,1837.5,1840,1842.5,1845],"labelExpr":"datum.value % 5 == 0 ? datum.label : ''","tickSize":{"condition":{"test":"datum.value % 5 == 0","value":4},"value":2}}},
"y":{"field":"m","type":"quantitative","scale":{"domain":[-0.008,0.008],"reverse":true,"nice":false,"zero":false},"axis":{"title":"Δmmag","titleFontSize":18,"titlePadding":0,"labelOverlap":false,"labelFontSize":10,"format":".3f","values":[-0.008,-0.007,-0.006,-0.005,-0.004,-0.003,-0.002,-0.001,0,0.001,0.002,0.003,0.004,0.005,0.006,0.007,0.008],"labelExpr":"abs(round(datum.value*1000)) % 2 == 0 ? datum.label : ''","tickSize":{"condition":{"test":"abs(round(datum.value*1000)) % 2 == 0","value":4},"value":2}}}
}},
{"data":{"values":[{"name":"TIC104735324"}]},"mark":{"type":"text","fontSize":17,"align":"center","baseline":"alphabetic"},
"encoding":{"x":{"datum":1830.0,"type":"quantitative","scale":{"domain":[1812.2,1845.4],"nice":false,"zero":false},"axis":null},"y":{"datum":-0.0062,"type":"quantitative","scale":{"domain":[-0.008,0.008],"reverse":true,"nice":false,"zero":false},"axis":null},"text":{"field":"name"}}}
]},
{"width":220,"height":169,
"resolve":{"scale":{"x":"independent","y":"independent"},"axis":{"x":"independent","y":"independent"}},
"layer":[
{"data":{"name":"lc2"},"mark":{"type":"circle","size":28,"color":"black","opacity":1},
"encoding":{
"x":{"field":"t","type":"quantitative","scale":{"domain":[1802.85,1814.5],"nice":false,"zero":false},"axis":{"title":"TJD","titleFontSize":18,"titlePadding":0,"labelPadding":1,"labelOverlap":false,"labelFontSize":10,"format":"d","values":[1803,1804,1805,1806,1807,1808,1809,1810,1811,1812,1813,1814],"labelExpr":"datum.value % 2 == 0 ? datum.label : ''","tickSize":{"condition":{"test":"datum.value % 2 == 0","value":4},"value":2}}},
"y":{"field":"m","type":"quantitative","scale":{"domain":[-0.0088,0.0091],"reverse":true,"nice":false,"zero":false},"axis":{"title":"Δmmag","titleFontSize":18,"titlePadding":0,"labelOverlap":false,"labelFontSize":10,"format":".3f","values":[-0.008,-0.007,-0.006,-0.005,-0.004,-0.003,-0.002,-0.001,0,0.001,0.002,0.003,0.004,0.005,0.006,0.007,0.008],"labelExpr":"abs(round(datum.value*1000)) % 2 == 0 ? datum.label : ''","tickSize":{"condition":{"test":"abs(round(datum.value*1000)) % 2 == 0","value":4},"value":2}}}
}},
{"data":{"values":[{"name":"TIC385150567"}]},"mark":{"type":"text","fontSize":17,"align":"center","baseline":"alphabetic"},
"encoding":{"x":{"datum":1809.0,"type":"quantitative","scale":{"domain":[1802.85,1814.5],"nice":false,"zero":false},"axis":null},"y":{"datum":-0.0068,"type":"quantitative","scale":{"domain":[-0.0088,0.0091],"reverse":true,"nice":false,"zero":false},"axis":null},"text":{"field":"name"}}}
]},
{"width":220,"height":169,
"resolve":{"scale":{"x":"independent","y":"independent"},"axis":{"x":"independent","y":"independent"}},
"layer":[
{"data":{"name":"lc3"},"mark":{"type":"circle","size":28,"color":"black","opacity":1},
"encoding":{
"x":{"field":"t","type":"quantitative","scale":{"domain":[1815,1842.1],"nice":false,"zero":false},"axis":{"title":"TJD","titleFontSize":18,"titlePadding":0,"labelPadding":1,"labelOverlap":false,"labelFontSize":10,"format":"d","values":[1815,1817.5,1820,1822.5,1825,1827.5,1830,1832.5,1835,1837.5,1840],"labelExpr":"datum.value % 5 == 0 ? datum.label : ''","tickSize":{"condition":{"test":"datum.value % 5 == 0","value":4},"value":2}}},
"y":{"field":"m","type":"quantitative","scale":{"domain":[-0.013,0.013],"reverse":true,"nice":false,"zero":false},"axis":{"title":"Δmmag","titleFontSize":18,"titlePadding":0,"labelOverlap":false,"labelFontSize":10,"format":".3f","values":[-0.0125,-0.01,-0.0075,-0.005,-0.0025,0,0.0025,0.005,0.0075,0.01,0.0125],"labelExpr":"round(abs(datum.value)*400) % 2 == 0 ? datum.label : ''","tickSize":{"condition":{"test":"round(abs(datum.value)*400) % 2 == 0","value":4},"value":2}}}
}},
{"data":{"values":[{"name":"TIC449913779"}]},"mark":{"type":"text","fontSize":17,"align":"center","baseline":"alphabetic"},
"encoding":{"x":{"datum":1829.5,"type":"quantitative","scale":{"domain":[1815,1842.1],"nice":false,"zero":false},"axis":null},"y":{"datum":-0.0101,"type":"quantitative","scale":{"domain":[-0.013,0.013],"reverse":true,"nice":false,"zero":false},"axis":null},"text":{"field":"name"}}}
]},
{"width":220,"height":169,
"resolve":{"scale":{"x":"independent","y":"independent"},"axis":{"x":"independent","y":"independent"}},
"layer":[
{"data":{"name":"lc4"},"mark":{"type":"circle","size":28,"color":"black","opacity":1},
"encoding":{
"x":{"field":"t","type":"quantitative","scale":{"domain":[1815,1842],"nice":false,"zero":false},"axis":{"title":"TJD","titleFontSize":18,"titlePadding":0,"labelPadding":1,"labelOverlap":false,"labelFontSize":10,"format":"d","values":[1815,1817.5,1820,1822.5,1825,1827.5,1830,1832.5,1835,1837.5,1840],"labelExpr":"datum.value % 5 == 0 ? datum.label : ''","tickSize":{"condition":{"test":"datum.value % 5 == 0","value":4},"value":2}}},
"y":{"field":"m","type":"quantitative","scale":{"domain":[-0.00445,0.004],"reverse":true,"nice":false,"zero":false},"axis":{"title":"Δmmag","titleFontSize":18,"titlePadding":0,"labelOverlap":false,"labelFontSize":10,"format":".3f","values":[-0.004,-0.003,-0.002,-0.001,0,0.001,0.002,0.003,0.004],"labelExpr":"abs(round(datum.value*1000)) % 2 == 0 ? datum.label : ''","tickSize":{"condition":{"test":"abs(round(datum.value*1000)) % 2 == 0","value":4},"value":2}}}
}},
{"data":{"values":[{"name":"TIC467798714"}]},"mark":{"type":"text","fontSize":17,"align":"center","baseline":"alphabetic"},
"encoding":{"x":{"datum":1830.0,"type":"quantitative","scale":{"domain":[1815,1842],"nice":false,"zero":false},"axis":null},"y":{"datum":-0.0035,"type":"quantitative","scale":{"domain":[-0.00445,0.004],"reverse":true,"nice":false,"zero":false},"axis":null},"text":{"field":"name"}}}
]},
{"width":220,"height":167,
"resolve":{"scale":{"x":"independent","y":"independent"},"axis":{"x":"independent","y":"independent"}},
"layer":[
{"layer":[
{"data":{"name":"sp1"},"mark":{"type":"line","color":"black","strokeWidth":1.1},
"encoding":{
"x":{"field":"f","type":"quantitative","scale":{"domain":[0,10],"nice":false,"zero":false},"axis":{"title":"Frequency(cycles d⁻¹)","titleFontSize":16,"titlePadding":0,"labelPadding":0,"labelOverlap":false,"labelFontSize":14,"format":"d","values":[0,1,2,3,4,5,6,7,8,9,10],"labelExpr":"datum.value % 2 == 0 ? datum.label : ''","tickSize":{"condition":{"test":"datum.value % 2 == 0","value":4},"value":2}}},
"y":{"field":"a","type":"quantitative","scale":{"domain":[0,2.78],"nice":false,"zero":false},"axis":{"title":"Amplitude(mmag)","titleFontSize":17,"titlePadding":0,"labelOverlap":false,"labelFontSize":14,"format":".1f","values":[0,0.25,0.5,0.75,1,1.25,1.5,1.75,2,2.25,2.5,2.75],"labelExpr":"round(datum.value*4) % 2 == 0 ? datum.label : ''","tickSize":{"condition":{"test":"round(datum.value*4) % 2 == 0","value":4},"value":2}}}
}},
{"data":{"name":"thr"},"mark":{"type":"rule","color":"#f03c3c","strokeDash":[2,2],"strokeWidth":1.3},"encoding":{"x":{"field":"f","type":"quantitative"}}}
]},
{"data":{"values":[{"name":"TIC104735324"}]},"mark":{"type":"text","fontSize":14,"align":"center","baseline":"alphabetic"},
"encoding":{"x":{"datum":6.39,"type":"quantitative","scale":{"domain":[0,10],"nice":false,"zero":false},"axis":null},"y":{"datum":2.41,"type":"quantitative","scale":{"domain":[0,2.78],"nice":false,"zero":false},"axis":null},"text":{"field":"name"}}}
]},
{"width":220,"height":167,
"resolve":{"scale":{"x":"independent","y":"independent"},"axis":{"x":"independent","y":"independent"}},
"layer":[
{"layer":[
{"data":{"name":"sp2"},"mark":{"type":"line","color":"black","strokeWidth":1.1},
"encoding":{
"x":{"field":"f","type":"quantitative","scale":{"domain":[0,10],"nice":false,"zero":false},"axis":{"title":"Frequency(cycles d⁻¹)","titleFontSize":16,"titlePadding":0,"labelPadding":0,"labelOverlap":false,"labelFontSize":14,"format":"d","values":[0,1,2,3,4,5,6,7,8,9,10],"labelExpr":"datum.value % 2 == 0 ? datum.label : ''","tickSize":{"condition":{"test":"datum.value % 2 == 0","value":4},"value":2}}},
"y":{"field":"a","type":"quantitative","scale":{"domain":[0,2.89],"nice":false,"zero":false},"axis":{"title":"Amplitude(mmag)","titleFontSize":17,"titlePadding":0,"labelOverlap":false,"labelFontSize":14,"format":".1f","values":[0,0.25,0.5,0.75,1,1.25,1.5,1.75,2,2.25,2.5,2.75],"labelExpr":"round(datum.value*4) % 2 == 0 ? datum.label : ''","tickSize":{"condition":{"test":"round(datum.value*4) % 2 == 0","value":4},"value":2}}}
}},
{"data":{"name":"thr"},"mark":{"type":"rule","color":"#f03c3c","strokeDash":[2,2],"strokeWidth":1.3},"encoding":{"x":{"field":"f","type":"quantitative"}}}
]},
{"data":{"values":[{"name":"TIC385150567"}]},"mark":{"type":"text","fontSize":14,"align":"center","baseline":"alphabetic"},
"encoding":{"x":{"datum":6.4,"type":"quantitative","scale":{"domain":[0,10],"nice":false,"zero":false},"axis":null},"y":{"datum":2.51,"type":"quantitative","scale":{"domain":[0,2.89],"nice":false,"zero":false},"axis":null},"text":{"field":"name"}}}
]},
{"width":220,"height":167,
"resolve":{"scale":{"x":"independent","y":"independent"},"axis":{"x":"independent","y":"independent"}},
"layer":[
{"layer":[
{"data":{"name":"sp3"},"mark":{"type":"line","color":"black","strokeWidth":1.1},
"encoding":{
"x":{"field":"f","type":"quantitative","scale":{"domain":[0,10],"nice":false,"zero":false},"axis":{"title":"Frequency(cycles d⁻¹)","titleFontSize":16,"titlePadding":0,"labelPadding":0,"labelOverlap":false,"labelFontSize":14,"format":"d","values":[0,1,2,3,4,5,6,7,8,9,10],"labelExpr":"datum.value % 2 == 0 ? datum.label : ''","tickSize":{"condition":{"test":"datum.value % 2 == 0","value":4},"value":2}}},
"y":{"field":"a","type":"quantitative","scale":{"domain":[0,4.68],"nice":false,"zero":false},"axis":{"title":"Amplitude(mmag)","titleFontSize":17,"titlePadding":0,"labelOverlap":false,"labelFontSize":14,"format":"d","values":[0,0.5,1,1.5,2,2.5,3,3.5,4,4.5],"labelExpr":"round(datum.value*2) % 2 == 0 ? datum.label : ''","tickSize":{"condition":{"test":"round(datum.value*2) % 2 == 0","value":4},"value":2}}}
}},
{"data":{"name":"thr"},"mark":{"type":"rule","color":"#f03c3c","strokeDash":[2,2],"strokeWidth":1.3},"encoding":{"x":{"field":"f","type":"quantitative"}}}
]},
{"data":{"values":[{"name":"TIC449913779"}]},"mark":{"type":"text","fontSize":14,"align":"center","baseline":"alphabetic"},
"encoding":{"x":{"datum":6.44,"type":"quantitative","scale":{"domain":[0,10],"nice":false,"zero":false},"axis":null},"y":{"datum":4.06,"type":"quantitative","scale":{"domain":[0,4.68],"nice":false,"zero":false},"axis":null},"text":{"field":"name"}}}
]},
{"width":220,"height":167,
"resolve":{"scale":{"x":"independent","y":"independent"},"axis":{"x":"independent","y":"independent"}},
"layer":[
{"layer":[
{"data":{"name":"sp4"},"mark":{"type":"line","color":"black","strokeWidth":1.1},
"encoding":{
"x":{"field":"f","type":"quantitative","scale":{"domain":[0,10],"nice":false,"zero":false},"axis":{"title":"Frequency(cycles d⁻¹)","titleFontSize":16,"titlePadding":0,"labelPadding":0,"labelOverlap":false,"labelFontSize":14,"format":"d","values":[0,1,2,3,4,5,6,7,8,9,10],"labelExpr":"datum.value % 2 == 0 ? datum.label : ''","tickSize":{"condition":{"test":"datum.value % 2 == 0","value":4},"value":2}}},
"y":{"field":"a","type":"quantitative","scale":{"domain":[0,1.046],"nice":false,"zero":false},"axis":{"title":"Amplitude(mmag)","titleFontSize":17,"titlePadding":0,"labelOverlap":false,"labelFontSize":14,"format":".1f","values":[0,0.1,0.2,0.3,0.4,0.5,0.6,0.7,0.8,0.9,1.0],"labelExpr":"round(datum.value*10) % 2 == 0 ? datum.label : ''","tickSize":{"condition":{"test":"round(datum.value*10) % 2 == 0","value":4},"value":2}}}
}},
{"data":{"name":"thr"},"mark":{"type":"rule","color":"#b01818","strokeDash":[2,2],"strokeWidth":1.3},"encoding":{"x":{"field":"f","type":"quantitative"}}}
]},
{"data":{"values":[{"name":"TIC467798714"}]},"mark":{"type":"text","fontSize":14,"align":"center","baseline":"alphabetic"},
"encoding":{"x":{"datum":5.47,"type":"quantitative","scale":{"domain":[0,10],"nice":false,"zero":false},"axis":null},"y":{"datum":0.908,"type":"quantitative","scale":{"domain":[0,1.046],"nice":false,"zero":false},"axis":null},"text":{"field":"name"}}}
]}
]
}
